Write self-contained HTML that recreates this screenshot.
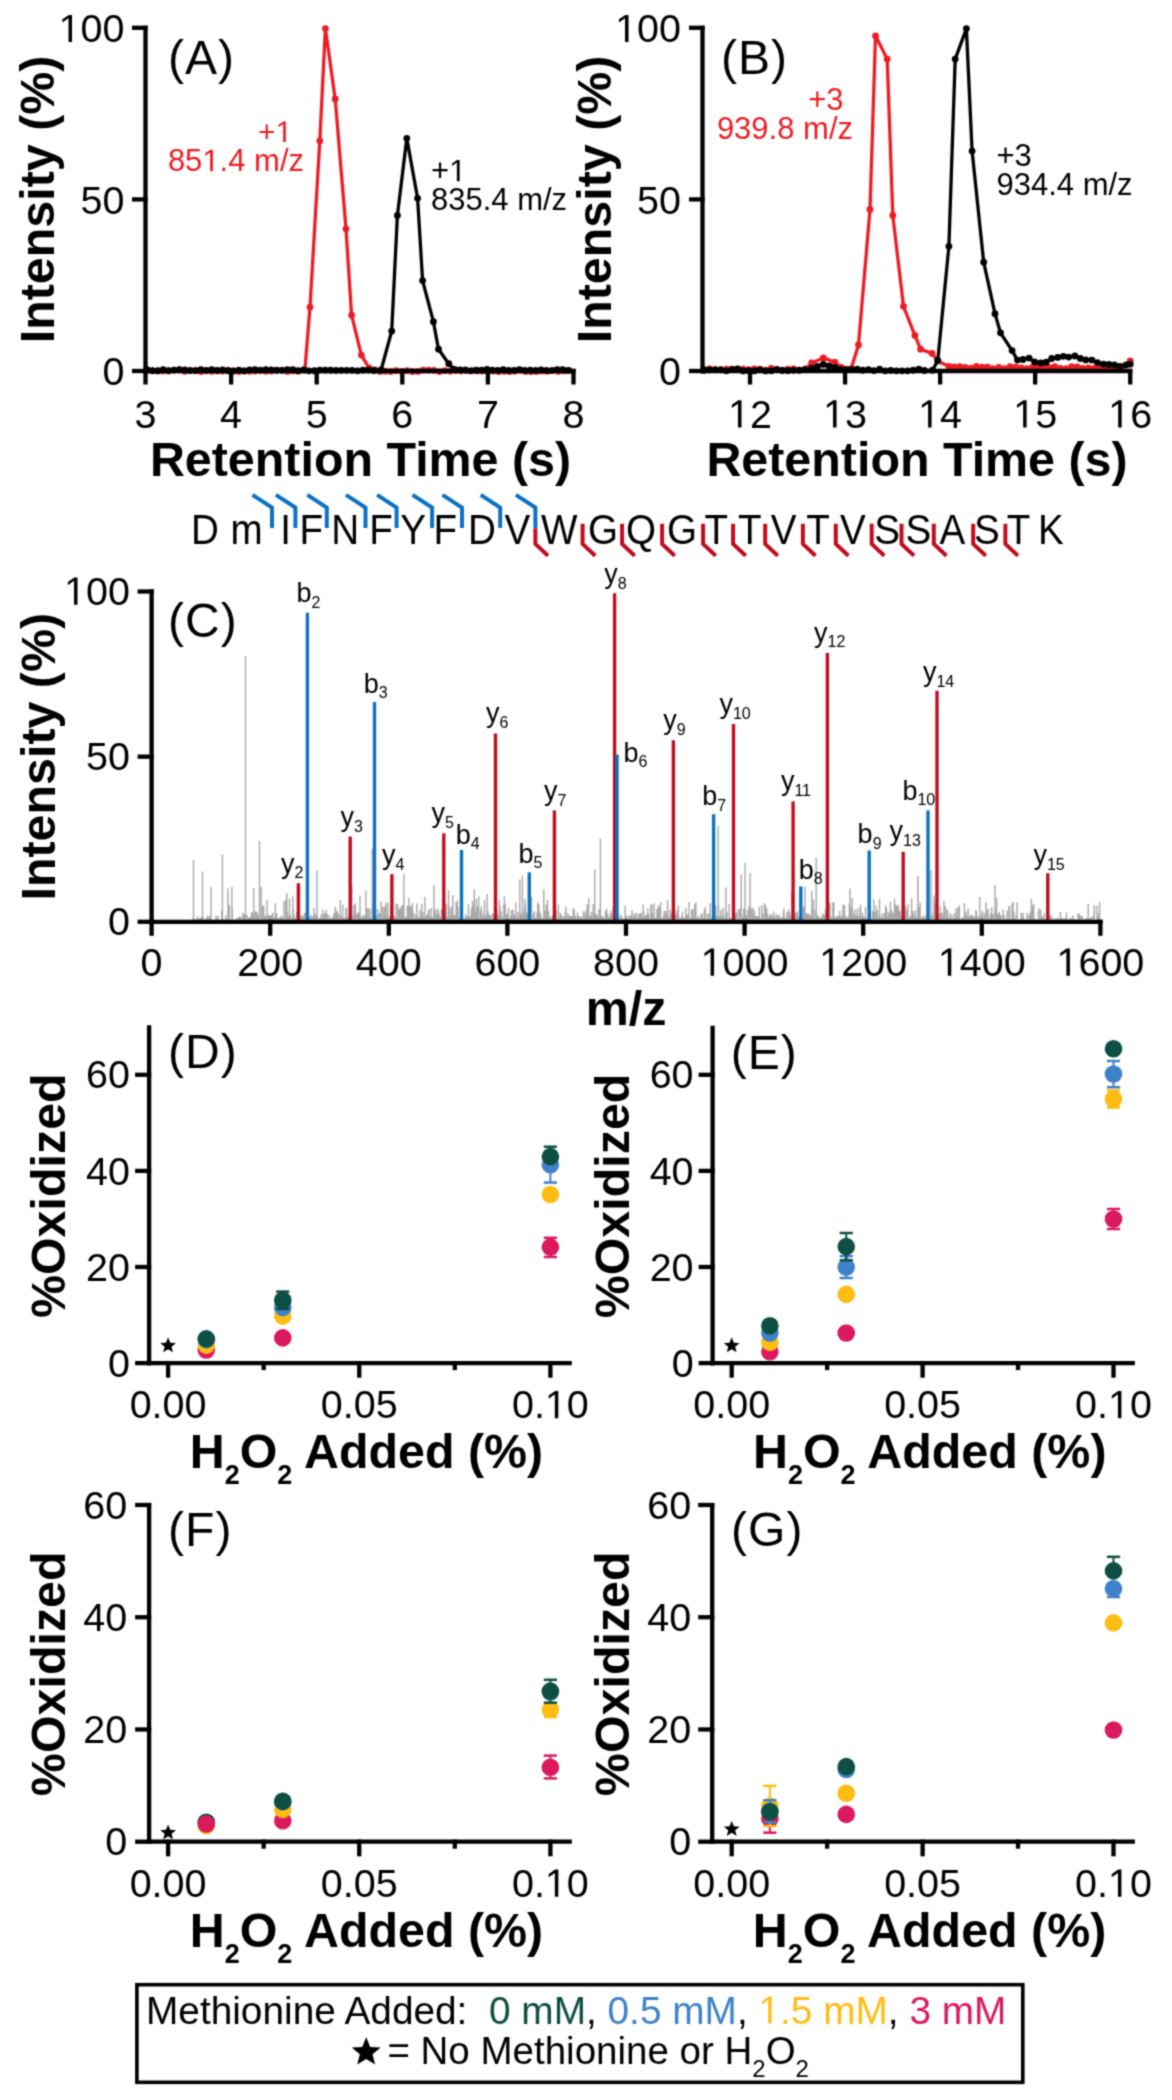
<!DOCTYPE html>
<html><head><meta charset="utf-8"><style>
html,body{margin:0;padding:0;background:#fff;}
svg{display:block;font-family:'Liberation Sans', sans-serif;will-change:transform;}
</style></head><body>
<svg width="1172" height="2100" viewBox="0 0 1172 2100">
<defs><filter id="sb" color-interpolation-filters="sRGB" x="0" y="0" width="100%" height="100%" filterUnits="userSpaceOnUse"><feConvolveMatrix order="3" kernelMatrix="1 2 1 2 8 2 1 2 1" edgeMode="duplicate" preserveAlpha="true"/></filter></defs>
<rect width="1172" height="2100" fill="#fff"/>
<g filter="url(#sb)">
<rect width="1172" height="2100" fill="#fff"/>
<polyline points="147.00,370.38 152.40,370.87 157.80,370.59 163.20,370.97 168.60,371.00 174.00,370.10 179.40,370.02 184.80,371.34 190.20,370.41 195.60,370.37 201.00,371.59 206.40,370.75 211.80,371.34 217.20,370.76 222.60,371.02 228.00,370.24 233.40,371.02 238.80,371.39 244.20,370.84 249.60,371.19 255.00,371.07 260.40,370.10 265.80,371.21 271.20,370.95 276.60,370.48 282.00,370.05 287.40,371.38 292.80,370.76 298.20,371.15 304.90,370.00 310.00,307.10 319.80,140.80 325.40,28.60 335.20,98.90 346.00,228.80 351.60,315.20 361.40,355.10 369.10,368.00 375.00,370.00 380.00,371.41 385.40,371.14 390.80,371.47 396.20,370.63 401.60,371.28 407.00,370.71 412.40,371.50 417.80,371.41 423.20,370.16 428.60,370.22 434.00,370.35 439.40,371.54 444.80,370.70 450.20,371.00 455.60,370.48 461.00,370.81 466.40,370.62 471.80,370.56 477.20,370.94 482.60,370.93 488.00,371.45 493.40,371.09 498.80,371.49 504.20,371.37 509.60,371.59 515.00,371.07 520.40,370.26 525.80,371.38 531.20,371.54 536.60,371.45 542.00,370.91 547.40,371.14 552.80,370.34 558.20,371.33 563.60,370.92 569.00,370.46" fill="none" stroke="#ec1c24" stroke-width="3.3" stroke-linejoin="round"/>
<circle cx="147.00" cy="370.38" r="3.4" fill="#ec1c24"/>
<circle cx="152.40" cy="370.87" r="3.4" fill="#ec1c24"/>
<circle cx="157.80" cy="370.59" r="3.4" fill="#ec1c24"/>
<circle cx="163.20" cy="370.97" r="3.4" fill="#ec1c24"/>
<circle cx="168.60" cy="371.00" r="3.4" fill="#ec1c24"/>
<circle cx="174.00" cy="370.10" r="3.4" fill="#ec1c24"/>
<circle cx="179.40" cy="370.02" r="3.4" fill="#ec1c24"/>
<circle cx="184.80" cy="371.34" r="3.4" fill="#ec1c24"/>
<circle cx="190.20" cy="370.41" r="3.4" fill="#ec1c24"/>
<circle cx="195.60" cy="370.37" r="3.4" fill="#ec1c24"/>
<circle cx="201.00" cy="371.59" r="3.4" fill="#ec1c24"/>
<circle cx="206.40" cy="370.75" r="3.4" fill="#ec1c24"/>
<circle cx="211.80" cy="371.34" r="3.4" fill="#ec1c24"/>
<circle cx="217.20" cy="370.76" r="3.4" fill="#ec1c24"/>
<circle cx="222.60" cy="371.02" r="3.4" fill="#ec1c24"/>
<circle cx="228.00" cy="370.24" r="3.4" fill="#ec1c24"/>
<circle cx="233.40" cy="371.02" r="3.4" fill="#ec1c24"/>
<circle cx="238.80" cy="371.39" r="3.4" fill="#ec1c24"/>
<circle cx="244.20" cy="370.84" r="3.4" fill="#ec1c24"/>
<circle cx="249.60" cy="371.19" r="3.4" fill="#ec1c24"/>
<circle cx="255.00" cy="371.07" r="3.4" fill="#ec1c24"/>
<circle cx="260.40" cy="370.10" r="3.4" fill="#ec1c24"/>
<circle cx="265.80" cy="371.21" r="3.4" fill="#ec1c24"/>
<circle cx="271.20" cy="370.95" r="3.4" fill="#ec1c24"/>
<circle cx="276.60" cy="370.48" r="3.4" fill="#ec1c24"/>
<circle cx="282.00" cy="370.05" r="3.4" fill="#ec1c24"/>
<circle cx="287.40" cy="371.38" r="3.4" fill="#ec1c24"/>
<circle cx="292.80" cy="370.76" r="3.4" fill="#ec1c24"/>
<circle cx="298.20" cy="371.15" r="3.4" fill="#ec1c24"/>
<circle cx="304.90" cy="370.00" r="3.4" fill="#ec1c24"/>
<circle cx="310.00" cy="307.10" r="3.4" fill="#ec1c24"/>
<circle cx="319.80" cy="140.80" r="3.4" fill="#ec1c24"/>
<circle cx="325.40" cy="28.60" r="3.4" fill="#ec1c24"/>
<circle cx="335.20" cy="98.90" r="3.4" fill="#ec1c24"/>
<circle cx="346.00" cy="228.80" r="3.4" fill="#ec1c24"/>
<circle cx="351.60" cy="315.20" r="3.4" fill="#ec1c24"/>
<circle cx="361.40" cy="355.10" r="3.4" fill="#ec1c24"/>
<circle cx="369.10" cy="368.00" r="3.4" fill="#ec1c24"/>
<circle cx="375.00" cy="370.00" r="3.4" fill="#ec1c24"/>
<circle cx="380.00" cy="371.41" r="3.4" fill="#ec1c24"/>
<circle cx="385.40" cy="371.14" r="3.4" fill="#ec1c24"/>
<circle cx="390.80" cy="371.47" r="3.4" fill="#ec1c24"/>
<circle cx="396.20" cy="370.63" r="3.4" fill="#ec1c24"/>
<circle cx="401.60" cy="371.28" r="3.4" fill="#ec1c24"/>
<circle cx="407.00" cy="370.71" r="3.4" fill="#ec1c24"/>
<circle cx="412.40" cy="371.50" r="3.4" fill="#ec1c24"/>
<circle cx="417.80" cy="371.41" r="3.4" fill="#ec1c24"/>
<circle cx="423.20" cy="370.16" r="3.4" fill="#ec1c24"/>
<circle cx="428.60" cy="370.22" r="3.4" fill="#ec1c24"/>
<circle cx="434.00" cy="370.35" r="3.4" fill="#ec1c24"/>
<circle cx="439.40" cy="371.54" r="3.4" fill="#ec1c24"/>
<circle cx="444.80" cy="370.70" r="3.4" fill="#ec1c24"/>
<circle cx="450.20" cy="371.00" r="3.4" fill="#ec1c24"/>
<circle cx="455.60" cy="370.48" r="3.4" fill="#ec1c24"/>
<circle cx="461.00" cy="370.81" r="3.4" fill="#ec1c24"/>
<circle cx="466.40" cy="370.62" r="3.4" fill="#ec1c24"/>
<circle cx="471.80" cy="370.56" r="3.4" fill="#ec1c24"/>
<circle cx="477.20" cy="370.94" r="3.4" fill="#ec1c24"/>
<circle cx="482.60" cy="370.93" r="3.4" fill="#ec1c24"/>
<circle cx="488.00" cy="371.45" r="3.4" fill="#ec1c24"/>
<circle cx="493.40" cy="371.09" r="3.4" fill="#ec1c24"/>
<circle cx="498.80" cy="371.49" r="3.4" fill="#ec1c24"/>
<circle cx="504.20" cy="371.37" r="3.4" fill="#ec1c24"/>
<circle cx="509.60" cy="371.59" r="3.4" fill="#ec1c24"/>
<circle cx="515.00" cy="371.07" r="3.4" fill="#ec1c24"/>
<circle cx="520.40" cy="370.26" r="3.4" fill="#ec1c24"/>
<circle cx="525.80" cy="371.38" r="3.4" fill="#ec1c24"/>
<circle cx="531.20" cy="371.54" r="3.4" fill="#ec1c24"/>
<circle cx="536.60" cy="371.45" r="3.4" fill="#ec1c24"/>
<circle cx="542.00" cy="370.91" r="3.4" fill="#ec1c24"/>
<circle cx="547.40" cy="371.14" r="3.4" fill="#ec1c24"/>
<circle cx="552.80" cy="370.34" r="3.4" fill="#ec1c24"/>
<circle cx="558.20" cy="371.33" r="3.4" fill="#ec1c24"/>
<circle cx="563.60" cy="370.92" r="3.4" fill="#ec1c24"/>
<circle cx="569.00" cy="370.46" r="3.4" fill="#ec1c24"/>
<polyline points="147.00,369.59 152.40,370.70 157.80,370.89 163.20,369.62 168.60,370.62 174.00,370.07 179.40,369.71 184.80,369.91 190.20,370.58 195.60,370.72 201.00,369.56 206.40,370.36 211.80,369.56 217.20,370.51 222.60,369.96 228.00,370.73 233.40,370.87 238.80,370.21 244.20,370.90 249.60,369.93 255.00,369.61 260.40,370.34 265.80,369.54 271.20,369.78 276.60,370.07 282.00,370.35 287.40,369.72 292.80,369.56 298.20,370.71 303.60,369.94 309.00,370.84 314.40,370.76 319.80,370.03 325.20,370.14 330.60,370.23 336.00,370.40 341.40,370.33 346.80,370.28 352.20,370.37 357.60,370.82 363.00,370.21 368.40,370.10 373.80,370.51 381.10,370.00 391.70,331.10 397.40,215.40 406.80,138.30 417.60,198.30 422.60,280.60 433.40,321.70 438.50,349.20 448.80,363.70 454.50,369.50 460.00,369.83 465.40,369.92 470.80,370.87 476.20,370.23 481.60,370.27 487.00,369.52 492.40,370.08 497.80,370.31 503.20,369.53 508.60,370.36 514.00,370.39 519.40,369.58 524.80,370.38 530.20,370.15 535.60,370.45 541.00,369.99 546.40,370.49 551.80,370.53 557.20,369.53 562.60,369.58 568.00,370.45" fill="none" stroke="#000" stroke-width="3.3" stroke-linejoin="round"/>
<circle cx="147.00" cy="369.59" r="3.4" fill="#000"/>
<circle cx="152.40" cy="370.70" r="3.4" fill="#000"/>
<circle cx="157.80" cy="370.89" r="3.4" fill="#000"/>
<circle cx="163.20" cy="369.62" r="3.4" fill="#000"/>
<circle cx="168.60" cy="370.62" r="3.4" fill="#000"/>
<circle cx="174.00" cy="370.07" r="3.4" fill="#000"/>
<circle cx="179.40" cy="369.71" r="3.4" fill="#000"/>
<circle cx="184.80" cy="369.91" r="3.4" fill="#000"/>
<circle cx="190.20" cy="370.58" r="3.4" fill="#000"/>
<circle cx="195.60" cy="370.72" r="3.4" fill="#000"/>
<circle cx="201.00" cy="369.56" r="3.4" fill="#000"/>
<circle cx="206.40" cy="370.36" r="3.4" fill="#000"/>
<circle cx="211.80" cy="369.56" r="3.4" fill="#000"/>
<circle cx="217.20" cy="370.51" r="3.4" fill="#000"/>
<circle cx="222.60" cy="369.96" r="3.4" fill="#000"/>
<circle cx="228.00" cy="370.73" r="3.4" fill="#000"/>
<circle cx="233.40" cy="370.87" r="3.4" fill="#000"/>
<circle cx="238.80" cy="370.21" r="3.4" fill="#000"/>
<circle cx="244.20" cy="370.90" r="3.4" fill="#000"/>
<circle cx="249.60" cy="369.93" r="3.4" fill="#000"/>
<circle cx="255.00" cy="369.61" r="3.4" fill="#000"/>
<circle cx="260.40" cy="370.34" r="3.4" fill="#000"/>
<circle cx="265.80" cy="369.54" r="3.4" fill="#000"/>
<circle cx="271.20" cy="369.78" r="3.4" fill="#000"/>
<circle cx="276.60" cy="370.07" r="3.4" fill="#000"/>
<circle cx="282.00" cy="370.35" r="3.4" fill="#000"/>
<circle cx="287.40" cy="369.72" r="3.4" fill="#000"/>
<circle cx="292.80" cy="369.56" r="3.4" fill="#000"/>
<circle cx="298.20" cy="370.71" r="3.4" fill="#000"/>
<circle cx="303.60" cy="369.94" r="3.4" fill="#000"/>
<circle cx="309.00" cy="370.84" r="3.4" fill="#000"/>
<circle cx="314.40" cy="370.76" r="3.4" fill="#000"/>
<circle cx="319.80" cy="370.03" r="3.4" fill="#000"/>
<circle cx="325.20" cy="370.14" r="3.4" fill="#000"/>
<circle cx="330.60" cy="370.23" r="3.4" fill="#000"/>
<circle cx="336.00" cy="370.40" r="3.4" fill="#000"/>
<circle cx="341.40" cy="370.33" r="3.4" fill="#000"/>
<circle cx="346.80" cy="370.28" r="3.4" fill="#000"/>
<circle cx="352.20" cy="370.37" r="3.4" fill="#000"/>
<circle cx="357.60" cy="370.82" r="3.4" fill="#000"/>
<circle cx="363.00" cy="370.21" r="3.4" fill="#000"/>
<circle cx="368.40" cy="370.10" r="3.4" fill="#000"/>
<circle cx="373.80" cy="370.51" r="3.4" fill="#000"/>
<circle cx="381.10" cy="370.00" r="3.4" fill="#000"/>
<circle cx="391.70" cy="331.10" r="3.4" fill="#000"/>
<circle cx="397.40" cy="215.40" r="3.4" fill="#000"/>
<circle cx="406.80" cy="138.30" r="3.4" fill="#000"/>
<circle cx="417.60" cy="198.30" r="3.4" fill="#000"/>
<circle cx="422.60" cy="280.60" r="3.4" fill="#000"/>
<circle cx="433.40" cy="321.70" r="3.4" fill="#000"/>
<circle cx="438.50" cy="349.20" r="3.4" fill="#000"/>
<circle cx="448.80" cy="363.70" r="3.4" fill="#000"/>
<circle cx="454.50" cy="369.50" r="3.4" fill="#000"/>
<circle cx="460.00" cy="369.83" r="3.4" fill="#000"/>
<circle cx="465.40" cy="369.92" r="3.4" fill="#000"/>
<circle cx="470.80" cy="370.87" r="3.4" fill="#000"/>
<circle cx="476.20" cy="370.23" r="3.4" fill="#000"/>
<circle cx="481.60" cy="370.27" r="3.4" fill="#000"/>
<circle cx="487.00" cy="369.52" r="3.4" fill="#000"/>
<circle cx="492.40" cy="370.08" r="3.4" fill="#000"/>
<circle cx="497.80" cy="370.31" r="3.4" fill="#000"/>
<circle cx="503.20" cy="369.53" r="3.4" fill="#000"/>
<circle cx="508.60" cy="370.36" r="3.4" fill="#000"/>
<circle cx="514.00" cy="370.39" r="3.4" fill="#000"/>
<circle cx="519.40" cy="369.58" r="3.4" fill="#000"/>
<circle cx="524.80" cy="370.38" r="3.4" fill="#000"/>
<circle cx="530.20" cy="370.15" r="3.4" fill="#000"/>
<circle cx="535.60" cy="370.45" r="3.4" fill="#000"/>
<circle cx="541.00" cy="369.99" r="3.4" fill="#000"/>
<circle cx="546.40" cy="370.49" r="3.4" fill="#000"/>
<circle cx="551.80" cy="370.53" r="3.4" fill="#000"/>
<circle cx="557.20" cy="369.53" r="3.4" fill="#000"/>
<circle cx="562.60" cy="369.58" r="3.4" fill="#000"/>
<circle cx="568.00" cy="370.45" r="3.4" fill="#000"/>
<polyline points="704.00,370.61 709.60,368.90 715.20,369.40 720.80,369.72 726.40,369.07 732.00,369.17 737.60,369.05 743.20,369.19 748.80,369.73 754.40,369.02 760.00,369.21 765.60,370.15 771.20,368.36 776.80,369.67 782.40,370.06 788.00,369.04 793.60,368.83 799.20,370.23 805.50,369.00 811.70,362.90 823.30,357.90 834.90,362.20 841.40,367.30 846.50,369.20 851.10,369.00 858.50,344.90 870.00,209.40 875.50,35.80 887.20,59.10 892.80,215.40 903.50,306.30 914.90,335.40 920.60,349.20 932.10,353.40 937.80,361.20 948.90,366.30 954.00,366.87 959.60,366.72 965.20,367.42 970.80,368.15 976.40,366.49 982.00,367.10 987.60,367.13 993.20,368.53 998.80,367.43 1004.40,368.60 1010.00,366.67 1015.60,367.14 1021.20,368.02 1026.80,368.68 1032.40,367.46 1038.00,366.83 1043.60,366.54 1049.20,367.68 1054.80,366.73 1060.40,368.46 1066.00,368.55 1071.60,366.71 1077.20,366.98 1082.80,368.46 1088.40,368.00 1094.00,368.46 1099.60,367.17 1105.20,366.56 1110.80,367.02 1116.40,368.42 1122.00,366.96 1130.20,360.80" fill="none" stroke="#ec1c24" stroke-width="3.3" stroke-linejoin="round"/>
<circle cx="704.00" cy="370.61" r="3.4" fill="#ec1c24"/>
<circle cx="709.60" cy="368.90" r="3.4" fill="#ec1c24"/>
<circle cx="715.20" cy="369.40" r="3.4" fill="#ec1c24"/>
<circle cx="720.80" cy="369.72" r="3.4" fill="#ec1c24"/>
<circle cx="726.40" cy="369.07" r="3.4" fill="#ec1c24"/>
<circle cx="732.00" cy="369.17" r="3.4" fill="#ec1c24"/>
<circle cx="737.60" cy="369.05" r="3.4" fill="#ec1c24"/>
<circle cx="743.20" cy="369.19" r="3.4" fill="#ec1c24"/>
<circle cx="748.80" cy="369.73" r="3.4" fill="#ec1c24"/>
<circle cx="754.40" cy="369.02" r="3.4" fill="#ec1c24"/>
<circle cx="760.00" cy="369.21" r="3.4" fill="#ec1c24"/>
<circle cx="765.60" cy="370.15" r="3.4" fill="#ec1c24"/>
<circle cx="771.20" cy="368.36" r="3.4" fill="#ec1c24"/>
<circle cx="776.80" cy="369.67" r="3.4" fill="#ec1c24"/>
<circle cx="782.40" cy="370.06" r="3.4" fill="#ec1c24"/>
<circle cx="788.00" cy="369.04" r="3.4" fill="#ec1c24"/>
<circle cx="793.60" cy="368.83" r="3.4" fill="#ec1c24"/>
<circle cx="799.20" cy="370.23" r="3.4" fill="#ec1c24"/>
<circle cx="805.50" cy="369.00" r="3.4" fill="#ec1c24"/>
<circle cx="811.70" cy="362.90" r="3.4" fill="#ec1c24"/>
<circle cx="823.30" cy="357.90" r="3.4" fill="#ec1c24"/>
<circle cx="834.90" cy="362.20" r="3.4" fill="#ec1c24"/>
<circle cx="841.40" cy="367.30" r="3.4" fill="#ec1c24"/>
<circle cx="846.50" cy="369.20" r="3.4" fill="#ec1c24"/>
<circle cx="851.10" cy="369.00" r="3.4" fill="#ec1c24"/>
<circle cx="858.50" cy="344.90" r="3.4" fill="#ec1c24"/>
<circle cx="870.00" cy="209.40" r="3.4" fill="#ec1c24"/>
<circle cx="875.50" cy="35.80" r="3.4" fill="#ec1c24"/>
<circle cx="887.20" cy="59.10" r="3.4" fill="#ec1c24"/>
<circle cx="892.80" cy="215.40" r="3.4" fill="#ec1c24"/>
<circle cx="903.50" cy="306.30" r="3.4" fill="#ec1c24"/>
<circle cx="914.90" cy="335.40" r="3.4" fill="#ec1c24"/>
<circle cx="920.60" cy="349.20" r="3.4" fill="#ec1c24"/>
<circle cx="932.10" cy="353.40" r="3.4" fill="#ec1c24"/>
<circle cx="937.80" cy="361.20" r="3.4" fill="#ec1c24"/>
<circle cx="948.90" cy="366.30" r="3.4" fill="#ec1c24"/>
<circle cx="954.00" cy="366.87" r="3.4" fill="#ec1c24"/>
<circle cx="959.60" cy="366.72" r="3.4" fill="#ec1c24"/>
<circle cx="965.20" cy="367.42" r="3.4" fill="#ec1c24"/>
<circle cx="970.80" cy="368.15" r="3.4" fill="#ec1c24"/>
<circle cx="976.40" cy="366.49" r="3.4" fill="#ec1c24"/>
<circle cx="982.00" cy="367.10" r="3.4" fill="#ec1c24"/>
<circle cx="987.60" cy="367.13" r="3.4" fill="#ec1c24"/>
<circle cx="993.20" cy="368.53" r="3.4" fill="#ec1c24"/>
<circle cx="998.80" cy="367.43" r="3.4" fill="#ec1c24"/>
<circle cx="1004.40" cy="368.60" r="3.4" fill="#ec1c24"/>
<circle cx="1010.00" cy="366.67" r="3.4" fill="#ec1c24"/>
<circle cx="1015.60" cy="367.14" r="3.4" fill="#ec1c24"/>
<circle cx="1021.20" cy="368.02" r="3.4" fill="#ec1c24"/>
<circle cx="1026.80" cy="368.68" r="3.4" fill="#ec1c24"/>
<circle cx="1032.40" cy="367.46" r="3.4" fill="#ec1c24"/>
<circle cx="1038.00" cy="366.83" r="3.4" fill="#ec1c24"/>
<circle cx="1043.60" cy="366.54" r="3.4" fill="#ec1c24"/>
<circle cx="1049.20" cy="367.68" r="3.4" fill="#ec1c24"/>
<circle cx="1054.80" cy="366.73" r="3.4" fill="#ec1c24"/>
<circle cx="1060.40" cy="368.46" r="3.4" fill="#ec1c24"/>
<circle cx="1066.00" cy="368.55" r="3.4" fill="#ec1c24"/>
<circle cx="1071.60" cy="366.71" r="3.4" fill="#ec1c24"/>
<circle cx="1077.20" cy="366.98" r="3.4" fill="#ec1c24"/>
<circle cx="1082.80" cy="368.46" r="3.4" fill="#ec1c24"/>
<circle cx="1088.40" cy="368.00" r="3.4" fill="#ec1c24"/>
<circle cx="1094.00" cy="368.46" r="3.4" fill="#ec1c24"/>
<circle cx="1099.60" cy="367.17" r="3.4" fill="#ec1c24"/>
<circle cx="1105.20" cy="366.56" r="3.4" fill="#ec1c24"/>
<circle cx="1110.80" cy="367.02" r="3.4" fill="#ec1c24"/>
<circle cx="1116.40" cy="368.42" r="3.4" fill="#ec1c24"/>
<circle cx="1122.00" cy="366.96" r="3.4" fill="#ec1c24"/>
<circle cx="1130.20" cy="360.80" r="3.4" fill="#ec1c24"/>
<polyline points="704.00,369.69 709.60,369.83 715.20,369.84 720.80,369.82 726.40,370.84 732.00,369.31 737.60,369.01 743.20,370.89 748.80,370.76 754.40,370.97 760.00,369.87 765.60,370.90 771.20,370.85 776.80,369.44 782.40,370.49 788.00,370.67 793.60,370.33 799.20,370.04 804.80,369.58 811.70,368.50 817.50,366.50 823.30,364.40 829.00,366.00 834.90,367.50 840.50,369.50 846.00,369.68 851.60,369.45 857.20,369.14 862.80,370.18 868.40,369.57 874.00,370.62 879.60,369.09 885.20,370.81 890.80,370.39 896.40,370.85 902.00,370.79 907.60,370.80 913.20,370.15 918.80,369.03 924.40,370.49 932.60,370.20 937.80,360.30 948.90,246.30 955.20,59.10 966.40,28.60 972.10,151.10 983.70,262.20 995.00,313.70 1000.50,332.80 1012.10,350.60 1017.50,360.10 1023.00,359.50 1029.10,358.10 1034.60,361.90 1040.80,362.90 1046.20,362.20 1051.70,358.50 1057.80,357.40 1063.30,356.30 1068.70,357.10 1074.90,356.00 1080.30,358.50 1085.80,359.90 1091.90,360.10 1097.40,362.60 1103.50,364.20 1109.00,364.50 1114.50,364.90 1119.90,366.30 1126.10,364.90 1130.20,364.20" fill="none" stroke="#000" stroke-width="3.3" stroke-linejoin="round"/>
<circle cx="704.00" cy="369.69" r="3.4" fill="#000"/>
<circle cx="709.60" cy="369.83" r="3.4" fill="#000"/>
<circle cx="715.20" cy="369.84" r="3.4" fill="#000"/>
<circle cx="720.80" cy="369.82" r="3.4" fill="#000"/>
<circle cx="726.40" cy="370.84" r="3.4" fill="#000"/>
<circle cx="732.00" cy="369.31" r="3.4" fill="#000"/>
<circle cx="737.60" cy="369.01" r="3.4" fill="#000"/>
<circle cx="743.20" cy="370.89" r="3.4" fill="#000"/>
<circle cx="748.80" cy="370.76" r="3.4" fill="#000"/>
<circle cx="754.40" cy="370.97" r="3.4" fill="#000"/>
<circle cx="760.00" cy="369.87" r="3.4" fill="#000"/>
<circle cx="765.60" cy="370.90" r="3.4" fill="#000"/>
<circle cx="771.20" cy="370.85" r="3.4" fill="#000"/>
<circle cx="776.80" cy="369.44" r="3.4" fill="#000"/>
<circle cx="782.40" cy="370.49" r="3.4" fill="#000"/>
<circle cx="788.00" cy="370.67" r="3.4" fill="#000"/>
<circle cx="793.60" cy="370.33" r="3.4" fill="#000"/>
<circle cx="799.20" cy="370.04" r="3.4" fill="#000"/>
<circle cx="804.80" cy="369.58" r="3.4" fill="#000"/>
<circle cx="811.70" cy="368.50" r="3.4" fill="#000"/>
<circle cx="817.50" cy="366.50" r="3.4" fill="#000"/>
<circle cx="823.30" cy="364.40" r="3.4" fill="#000"/>
<circle cx="829.00" cy="366.00" r="3.4" fill="#000"/>
<circle cx="834.90" cy="367.50" r="3.4" fill="#000"/>
<circle cx="840.50" cy="369.50" r="3.4" fill="#000"/>
<circle cx="846.00" cy="369.68" r="3.4" fill="#000"/>
<circle cx="851.60" cy="369.45" r="3.4" fill="#000"/>
<circle cx="857.20" cy="369.14" r="3.4" fill="#000"/>
<circle cx="862.80" cy="370.18" r="3.4" fill="#000"/>
<circle cx="868.40" cy="369.57" r="3.4" fill="#000"/>
<circle cx="874.00" cy="370.62" r="3.4" fill="#000"/>
<circle cx="879.60" cy="369.09" r="3.4" fill="#000"/>
<circle cx="885.20" cy="370.81" r="3.4" fill="#000"/>
<circle cx="890.80" cy="370.39" r="3.4" fill="#000"/>
<circle cx="896.40" cy="370.85" r="3.4" fill="#000"/>
<circle cx="902.00" cy="370.79" r="3.4" fill="#000"/>
<circle cx="907.60" cy="370.80" r="3.4" fill="#000"/>
<circle cx="913.20" cy="370.15" r="3.4" fill="#000"/>
<circle cx="918.80" cy="369.03" r="3.4" fill="#000"/>
<circle cx="924.40" cy="370.49" r="3.4" fill="#000"/>
<circle cx="932.60" cy="370.20" r="3.4" fill="#000"/>
<circle cx="937.80" cy="360.30" r="3.4" fill="#000"/>
<circle cx="948.90" cy="246.30" r="3.4" fill="#000"/>
<circle cx="955.20" cy="59.10" r="3.4" fill="#000"/>
<circle cx="966.40" cy="28.60" r="3.4" fill="#000"/>
<circle cx="972.10" cy="151.10" r="3.4" fill="#000"/>
<circle cx="983.70" cy="262.20" r="3.4" fill="#000"/>
<circle cx="995.00" cy="313.70" r="3.4" fill="#000"/>
<circle cx="1000.50" cy="332.80" r="3.4" fill="#000"/>
<circle cx="1012.10" cy="350.60" r="3.4" fill="#000"/>
<circle cx="1017.50" cy="360.10" r="3.4" fill="#000"/>
<circle cx="1023.00" cy="359.50" r="3.4" fill="#000"/>
<circle cx="1029.10" cy="358.10" r="3.4" fill="#000"/>
<circle cx="1034.60" cy="361.90" r="3.4" fill="#000"/>
<circle cx="1040.80" cy="362.90" r="3.4" fill="#000"/>
<circle cx="1046.20" cy="362.20" r="3.4" fill="#000"/>
<circle cx="1051.70" cy="358.50" r="3.4" fill="#000"/>
<circle cx="1057.80" cy="357.40" r="3.4" fill="#000"/>
<circle cx="1063.30" cy="356.30" r="3.4" fill="#000"/>
<circle cx="1068.70" cy="357.10" r="3.4" fill="#000"/>
<circle cx="1074.90" cy="356.00" r="3.4" fill="#000"/>
<circle cx="1080.30" cy="358.50" r="3.4" fill="#000"/>
<circle cx="1085.80" cy="359.90" r="3.4" fill="#000"/>
<circle cx="1091.90" cy="360.10" r="3.4" fill="#000"/>
<circle cx="1097.40" cy="362.60" r="3.4" fill="#000"/>
<circle cx="1103.50" cy="364.20" r="3.4" fill="#000"/>
<circle cx="1109.00" cy="364.50" r="3.4" fill="#000"/>
<circle cx="1114.50" cy="364.90" r="3.4" fill="#000"/>
<circle cx="1119.90" cy="366.30" r="3.4" fill="#000"/>
<circle cx="1126.10" cy="364.90" r="3.4" fill="#000"/>
<circle cx="1130.20" cy="364.20" r="3.4" fill="#000"/>
<line x1="145.50" y1="25.65" x2="145.50" y2="373.15" stroke="#000" stroke-width="4.3" stroke-linecap="butt"/>
<line x1="132.00" y1="371.00" x2="147.65" y2="371.00" stroke="#000" stroke-width="4.3" stroke-linecap="butt"/>
<text x="124.50" y="385.30" font-size="39.5" text-anchor="end" font-weight="normal" fill="#000" >0</text>
<line x1="132.00" y1="199.40" x2="147.65" y2="199.40" stroke="#000" stroke-width="4.3" stroke-linecap="butt"/>
<text x="124.50" y="213.70" font-size="39.5" text-anchor="end" font-weight="normal" fill="#000" >50</text>
<line x1="132.00" y1="27.80" x2="147.65" y2="27.80" stroke="#000" stroke-width="4.3" stroke-linecap="butt"/>
<text x="124.50" y="42.10" font-size="39.5" text-anchor="end" font-weight="normal" fill="#000" > 00</text>
<line x1="143.35" y1="371.00" x2="575.65" y2="371.00" stroke="#000" stroke-width="4.3" stroke-linecap="butt"/>
<line x1="145.50" y1="368.85" x2="145.50" y2="384.50" stroke="#000" stroke-width="4.3" stroke-linecap="butt"/>
<text x="145.50" y="427.50" font-size="39.5" text-anchor="middle" font-weight="normal" fill="#000" >3</text>
<line x1="231.10" y1="368.85" x2="231.10" y2="384.50" stroke="#000" stroke-width="4.3" stroke-linecap="butt"/>
<text x="231.10" y="427.50" font-size="39.5" text-anchor="middle" font-weight="normal" fill="#000" >4</text>
<line x1="316.70" y1="368.85" x2="316.70" y2="384.50" stroke="#000" stroke-width="4.3" stroke-linecap="butt"/>
<text x="316.70" y="427.50" font-size="39.5" text-anchor="middle" font-weight="normal" fill="#000" >5</text>
<line x1="402.30" y1="368.85" x2="402.30" y2="384.50" stroke="#000" stroke-width="4.3" stroke-linecap="butt"/>
<text x="402.30" y="427.50" font-size="39.5" text-anchor="middle" font-weight="normal" fill="#000" >6</text>
<line x1="487.90" y1="368.85" x2="487.90" y2="384.50" stroke="#000" stroke-width="4.3" stroke-linecap="butt"/>
<text x="487.90" y="427.50" font-size="39.5" text-anchor="middle" font-weight="normal" fill="#000" >7</text>
<line x1="573.50" y1="368.85" x2="573.50" y2="384.50" stroke="#000" stroke-width="4.3" stroke-linecap="butt"/>
<text x="573.50" y="427.50" font-size="39.5" text-anchor="middle" font-weight="normal" fill="#000" >8</text>
<text x="360.50" y="476.20" font-size="48.4" text-anchor="middle" font-weight="bold" fill="#000" >Retention Time (s)</text>
<text transform="translate(54.30,199.40) rotate(-90)" x="0" y="0" font-size="48.4" text-anchor="middle" font-weight="bold">Intensity (%)</text>
<text x="168.00" y="74.20" font-size="48" text-anchor="start" font-weight="normal" fill="#000" letter-spacing="1">(A)</text>
<line x1="702.50" y1="25.65" x2="702.50" y2="373.15" stroke="#000" stroke-width="4.3" stroke-linecap="butt"/>
<line x1="689.00" y1="371.00" x2="704.65" y2="371.00" stroke="#000" stroke-width="4.3" stroke-linecap="butt"/>
<text x="681.00" y="385.30" font-size="39.5" text-anchor="end" font-weight="normal" fill="#000" >0</text>
<line x1="689.00" y1="199.40" x2="704.65" y2="199.40" stroke="#000" stroke-width="4.3" stroke-linecap="butt"/>
<text x="681.00" y="213.70" font-size="39.5" text-anchor="end" font-weight="normal" fill="#000" >50</text>
<line x1="689.00" y1="27.80" x2="704.65" y2="27.80" stroke="#000" stroke-width="4.3" stroke-linecap="butt"/>
<text x="681.00" y="42.10" font-size="39.5" text-anchor="end" font-weight="normal" fill="#000" > 00</text>
<line x1="700.35" y1="371.00" x2="1132.38" y2="371.00" stroke="#000" stroke-width="4.3" stroke-linecap="butt"/>
<line x1="750.02" y1="368.85" x2="750.02" y2="384.50" stroke="#000" stroke-width="4.3" stroke-linecap="butt"/>
<text x="750.02" y="427.50" font-size="39.5" text-anchor="middle" font-weight="normal" fill="#000" > 2</text>
<line x1="845.08" y1="368.85" x2="845.08" y2="384.50" stroke="#000" stroke-width="4.3" stroke-linecap="butt"/>
<text x="845.08" y="427.50" font-size="39.5" text-anchor="middle" font-weight="normal" fill="#000" > 3</text>
<line x1="940.12" y1="368.85" x2="940.12" y2="384.50" stroke="#000" stroke-width="4.3" stroke-linecap="butt"/>
<text x="940.12" y="427.50" font-size="39.5" text-anchor="middle" font-weight="normal" fill="#000" > 4</text>
<line x1="1035.17" y1="368.85" x2="1035.17" y2="384.50" stroke="#000" stroke-width="4.3" stroke-linecap="butt"/>
<text x="1035.17" y="427.50" font-size="39.5" text-anchor="middle" font-weight="normal" fill="#000" > 5</text>
<line x1="1130.22" y1="368.85" x2="1130.22" y2="384.50" stroke="#000" stroke-width="4.3" stroke-linecap="butt"/>
<text x="1130.22" y="427.50" font-size="39.5" text-anchor="middle" font-weight="normal" fill="#000" > 6</text>
<text x="917.00" y="476.20" font-size="48.4" text-anchor="middle" font-weight="bold" fill="#000" >Retention Time (s)</text>
<text transform="translate(610.70,199.40) rotate(-90)" x="0" y="0" font-size="48.4" text-anchor="middle" font-weight="bold">Intensity (%)</text>
<text x="721.00" y="74.20" font-size="48" text-anchor="start" font-weight="normal" fill="#000" letter-spacing="1">(B)</text>
<text x="292.30" y="142.10" font-size="30" text-anchor="end" font-weight="normal" fill="#ec1c24" >+ </text>
<text x="304.00" y="171.20" font-size="31" text-anchor="end" font-weight="normal" fill="#ec1c24" >85 .4 m/z</text>
<text x="431.00" y="181.30" font-size="31" text-anchor="start" font-weight="normal" fill="#000" >+ </text>
<text x="431.00" y="210.40" font-size="31" text-anchor="start" font-weight="normal" fill="#000" >835.4 m/z</text>
<text x="843.60" y="109.90" font-size="31" text-anchor="end" font-weight="normal" fill="#ec1c24" >+3</text>
<text x="853.00" y="138.90" font-size="31" text-anchor="end" font-weight="normal" fill="#ec1c24" >939.8 m/z</text>
<text x="996.50" y="165.50" font-size="31" text-anchor="start" font-weight="normal" fill="#000" >+3</text>
<text x="996.50" y="194.50" font-size="31" text-anchor="start" font-weight="normal" fill="#000" >934.4 m/z</text>
<text transform="translate(205.00,543.6) scale(0.92,1)" font-size="42" text-anchor="middle">D</text>
<text transform="translate(246.60,543.6) scale(0.92,1)" font-size="42" text-anchor="middle">m</text>
<text transform="translate(285.50,543.6) scale(0.92,1)" font-size="42" text-anchor="middle">I</text>
<text transform="translate(311.40,543.6) scale(0.92,1)" font-size="42" text-anchor="middle">F</text>
<text transform="translate(345.20,543.6) scale(0.92,1)" font-size="42" text-anchor="middle">N</text>
<text transform="translate(381.00,543.6) scale(0.92,1)" font-size="42" text-anchor="middle">F</text>
<text transform="translate(413.20,543.6) scale(0.92,1)" font-size="42" text-anchor="middle">Y</text>
<text transform="translate(445.40,543.6) scale(0.92,1)" font-size="42" text-anchor="middle">F</text>
<text transform="translate(482.00,543.6) scale(0.92,1)" font-size="42" text-anchor="middle">D</text>
<text transform="translate(517.50,543.6) scale(0.92,1)" font-size="42" text-anchor="middle">V</text>
<text transform="translate(559.30,543.6) scale(0.92,1)" font-size="42" text-anchor="middle">W</text>
<text transform="translate(603.00,543.6) scale(0.92,1)" font-size="42" text-anchor="middle">G</text>
<text transform="translate(641.00,543.6) scale(0.92,1)" font-size="42" text-anchor="middle">Q</text>
<text transform="translate(682.00,543.6) scale(0.92,1)" font-size="42" text-anchor="middle">G</text>
<text transform="translate(716.40,543.6) scale(0.92,1)" font-size="42" text-anchor="middle">T</text>
<text transform="translate(749.70,543.6) scale(0.92,1)" font-size="42" text-anchor="middle">T</text>
<text transform="translate(783.60,543.6) scale(0.92,1)" font-size="42" text-anchor="middle">V</text>
<text transform="translate(818.00,543.6) scale(0.92,1)" font-size="42" text-anchor="middle">T</text>
<text transform="translate(853.00,543.6) scale(0.92,1)" font-size="42" text-anchor="middle">V</text>
<text transform="translate(887.20,543.6) scale(0.92,1)" font-size="42" text-anchor="middle">S</text>
<text transform="translate(918.30,543.6) scale(0.92,1)" font-size="42" text-anchor="middle">S</text>
<text transform="translate(952.40,543.6) scale(0.92,1)" font-size="42" text-anchor="middle">A</text>
<text transform="translate(986.80,543.6) scale(0.92,1)" font-size="42" text-anchor="middle">S</text>
<text transform="translate(1018.60,543.6) scale(0.92,1)" font-size="42" text-anchor="middle">T</text>
<text transform="translate(1050.80,543.6) scale(0.92,1)" font-size="42" text-anchor="middle">K</text>
<polyline points="252.50,494.8 272.00,507.6 272.00,528.1" fill="none" stroke="#0a72c2" stroke-width="4"/>
<polyline points="275.90,494.8 295.40,507.6 295.40,528.1" fill="none" stroke="#0a72c2" stroke-width="4"/>
<polyline points="307.30,494.8 326.80,507.6 326.80,528.1" fill="none" stroke="#0a72c2" stroke-width="4"/>
<polyline points="346.00,494.8 365.50,507.6 365.50,528.1" fill="none" stroke="#0a72c2" stroke-width="4"/>
<polyline points="377.10,494.8 396.60,507.6 396.60,528.1" fill="none" stroke="#0a72c2" stroke-width="4"/>
<polyline points="412.60,494.8 432.10,507.6 432.10,528.1" fill="none" stroke="#0a72c2" stroke-width="4"/>
<polyline points="442.50,494.8 462.00,507.6 462.00,528.1" fill="none" stroke="#0a72c2" stroke-width="4"/>
<polyline points="480.70,494.8 500.20,507.6 500.20,528.1" fill="none" stroke="#0a72c2" stroke-width="4"/>
<polyline points="515.90,494.8 535.40,507.6 535.40,528.1" fill="none" stroke="#0a72c2" stroke-width="4"/>
<polyline points="535.40,528.3  535.40,543.9 548.00,555.8" fill="none" stroke="#c00d1e" stroke-width="4"/>
<polyline points="582.60,523.8  582.60,543.9 595.20,555.8" fill="none" stroke="#c00d1e" stroke-width="4"/>
<polyline points="622.10,523.8  622.10,543.9 634.70,555.8" fill="none" stroke="#c00d1e" stroke-width="4"/>
<polyline points="662.10,523.8  662.10,543.9 674.70,555.8" fill="none" stroke="#c00d1e" stroke-width="4"/>
<polyline points="703.10,523.8  703.10,543.9 715.70,555.8" fill="none" stroke="#c00d1e" stroke-width="4"/>
<polyline points="733.10,523.8  733.10,543.9 745.70,555.8" fill="none" stroke="#c00d1e" stroke-width="4"/>
<polyline points="765.20,523.8  765.20,543.9 777.80,555.8" fill="none" stroke="#c00d1e" stroke-width="4"/>
<polyline points="802.90,523.8  802.90,543.9 815.50,555.8" fill="none" stroke="#c00d1e" stroke-width="4"/>
<polyline points="835.80,523.8  835.80,543.9 848.40,555.8" fill="none" stroke="#c00d1e" stroke-width="4"/>
<polyline points="871.70,523.8  871.70,543.9 884.30,555.8" fill="none" stroke="#c00d1e" stroke-width="4"/>
<polyline points="901.50,523.8  901.50,543.9 914.10,555.8" fill="none" stroke="#c00d1e" stroke-width="4"/>
<polyline points="933.80,523.8  933.80,543.9 946.40,555.8" fill="none" stroke="#c00d1e" stroke-width="4"/>
<polyline points="973.20,523.8  973.20,543.9 985.80,555.8" fill="none" stroke="#c00d1e" stroke-width="4"/>
<polyline points="1005.40,523.8  1005.40,543.9 1018.00,555.8" fill="none" stroke="#c00d1e" stroke-width="4"/>
<path d="M190.0 921.8V919.8 M191.0 921.8V920.6 M191.8 921.8V920.7 M192.3 921.8V919.4 M192.9 921.8V919.4 M193.5 921.8V920.2 M194.8 921.8V918.6 M196.1 921.8V920.7 M196.8 921.8V920.4 M197.5 921.8V916.6 M198.5 921.8V918.3 M199.4 921.8V920.6 M200.1 921.8V917.9 M200.9 921.8V918.6 M201.6 921.8V916.8 M202.3 921.8V918.7 M203.5 921.8V917.5 M204.8 921.8V920.5 M205.9 921.8V920.4 M206.4 921.8V918.0 M207.4 921.8V915.6 M208.4 921.8V918.5 M209.3 921.8V916.2 M210.2 921.8V918.1 M211.2 921.8V918.2 M212.4 921.8V920.0 M213.4 921.8V920.7 M214.1 921.8V920.5 M215.2 921.8V920.5 M216.0 921.8V915.7 M216.8 921.8V918.8 M218.0 921.8V915.8 M218.8 921.8V919.7 M220.1 921.8V920.4 M220.8 921.8V920.1 M221.8 921.8V910.4 M222.5 921.8V918.7 M223.6 921.8V919.0 M224.6 921.8V920.7 M225.8 921.8V915.6 M226.6 921.8V919.5 M227.6 921.8V920.6 M228.3 921.8V920.4 M228.8 921.8V920.8 M229.4 921.8V905.1 M230.4 921.8V920.4 M231.1 921.8V919.7 M232.3 921.8V908.4 M233.2 921.8V920.6 M234.0 921.8V920.0 M234.6 921.8V920.7 M235.5 921.8V920.4 M236.1 921.8V918.9 M237.3 921.8V917.8 M238.0 921.8V920.3 M239.0 921.8V917.0 M239.6 921.8V916.6 M240.8 921.8V916.7 M241.9 921.8V920.2 M242.7 921.8V912.7 M243.4 921.8V917.9 M244.3 921.8V913.9 M245.5 921.8V919.7 M246.2 921.8V920.3 M247.2 921.8V915.0 M248.1 921.8V918.2 M248.7 921.8V918.1 M249.8 921.8V917.3 M250.4 921.8V916.9 M251.6 921.8V911.9 M252.4 921.8V913.5 M253.0 921.8V920.5 M254.3 921.8V916.7 M255.4 921.8V911.0 M256.2 921.8V918.8 M256.7 921.8V912.0 M257.6 921.8V914.0 M258.8 921.8V916.4 M259.5 921.8V919.9 M260.5 921.8V920.0 M261.1 921.8V914.8 M262.0 921.8V918.6 M262.8 921.8V906.3 M263.7 921.8V905.3 M264.4 921.8V918.8 M265.0 921.8V915.6 M266.0 921.8V916.8 M266.9 921.8V900.0 M267.6 921.8V917.2 M268.5 921.8V914.7 M269.7 921.8V915.9 M270.6 921.8V915.2 M271.5 921.8V915.0 M272.8 921.8V912.8 M274.0 921.8V917.3 M275.3 921.8V903.3 M276.1 921.8V918.4 M276.7 921.8V913.3 M277.9 921.8V918.0 M278.9 921.8V918.0 M280.2 921.8V917.6 M281.0 921.8V915.5 M282.2 921.8V917.9 M283.1 921.8V916.7 M283.9 921.8V901.3 M284.7 921.8V918.7 M285.7 921.8V899.4 M286.8 921.8V893.1 M287.4 921.8V911.3 M288.0 921.8V916.1 M289.1 921.8V917.3 M290.4 921.8V914.6 M290.9 921.8V918.5 M291.8 921.8V918.4 M292.8 921.8V896.3 M293.3 921.8V908.9 M294.1 921.8V914.8 M294.8 921.8V918.1 M295.5 921.8V918.2 M296.1 921.8V917.7 M296.8 921.8V911.7 M297.7 921.8V917.8 M298.2 921.8V904.3 M299.2 921.8V917.7 M300.4 921.8V918.2 M301.2 921.8V915.4 M302.1 921.8V915.3 M303.3 921.8V916.7 M304.4 921.8V913.7 M305.2 921.8V912.7 M306.3 921.8V917.3 M306.8 921.8V909.6 M307.9 921.8V917.1 M308.6 921.8V915.7 M309.5 921.8V917.3 M310.8 921.8V914.8 M312.0 921.8V916.9 M312.5 921.8V916.4 M313.4 921.8V917.7 M313.9 921.8V907.9 M314.5 921.8V918.7 M315.2 921.8V914.4 M316.3 921.8V913.4 M317.5 921.8V916.3 M318.7 921.8V918.0 M319.8 921.8V918.6 M321.0 921.8V913.9 M322.1 921.8V918.0 M323.0 921.8V909.8 M324.2 921.8V914.4 M325.2 921.8V912.9 M325.8 921.8V918.1 M326.3 921.8V909.8 M327.3 921.8V913.9 M328.2 921.8V918.8 M329.3 921.8V915.3 M330.4 921.8V918.5 M331.1 921.8V918.4 M332.1 921.8V917.7 M333.4 921.8V915.4 M334.3 921.8V913.0 M335.3 921.8V907.0 M336.0 921.8V912.0 M337.0 921.8V910.8 M338.0 921.8V912.9 M338.7 921.8V915.2 M339.6 921.8V918.2 M340.3 921.8V899.7 M340.8 921.8V915.7 M342.1 921.8V915.8 M342.7 921.8V904.2 M343.7 921.8V918.0 M344.9 921.8V918.1 M345.9 921.8V907.9 M346.5 921.8V907.4 M347.1 921.8V918.8 M347.9 921.8V917.0 M348.7 921.8V916.9 M349.2 921.8V911.9 M349.8 921.8V905.8 M351.0 921.8V917.1 M351.8 921.8V885.2 M352.6 921.8V916.0 M353.2 921.8V918.3 M353.9 921.8V905.1 M354.6 921.8V915.2 M355.4 921.8V903.2 M356.5 921.8V913.8 M357.8 921.8V914.8 M358.3 921.8V912.2 M359.4 921.8V913.6 M360.0 921.8V895.5 M360.8 921.8V917.0 M362.0 921.8V917.3 M362.8 921.8V914.7 M363.4 921.8V917.9 M364.6 921.8V915.4 M365.9 921.8V890.6 M366.5 921.8V909.0 M367.0 921.8V917.4 M368.0 921.8V907.9 M368.8 921.8V916.1 M369.6 921.8V908.7 M370.9 921.8V918.1 M371.9 921.8V908.9 M372.6 921.8V917.4 M373.5 921.8V903.4 M374.7 921.8V905.9 M375.9 921.8V915.6 M376.4 921.8V916.3 M377.6 921.8V909.1 M378.3 921.8V918.2 M379.2 921.8V913.1 M380.3 921.8V913.6 M381.1 921.8V901.2 M381.8 921.8V906.2 M382.5 921.8V918.1 M383.6 921.8V907.0 M384.5 921.8V914.4 M385.2 921.8V905.9 M386.0 921.8V902.8 M387.2 921.8V915.6 M387.9 921.8V902.6 M388.7 921.8V918.7 M389.7 921.8V916.1 M390.7 921.8V905.8 M391.3 921.8V916.7 M392.3 921.8V917.7 M393.4 921.8V915.3 M394.7 921.8V916.9 M395.4 921.8V917.5 M396.1 921.8V903.6 M396.8 921.8V917.5 M397.8 921.8V903.9 M398.6 921.8V917.6 M399.2 921.8V909.2 M400.4 921.8V908.0 M401.7 921.8V905.4 M402.4 921.8V905.1 M402.9 921.8V913.3 M403.7 921.8V916.8 M404.2 921.8V917.2 M405.5 921.8V918.1 M406.1 921.8V916.6 M407.3 921.8V905.8 M408.1 921.8V906.2 M408.9 921.8V897.9 M410.0 921.8V906.1 M410.6 921.8V906.2 M411.7 921.8V907.4 M412.4 921.8V903.0 M413.1 921.8V912.5 M413.8 921.8V918.8 M415.1 921.8V913.8 M415.6 921.8V917.5 M416.9 921.8V903.4 M417.6 921.8V916.0 M418.8 921.8V917.8 M419.9 921.8V910.1 M420.9 921.8V916.8 M421.7 921.8V904.0 M422.8 921.8V912.0 M423.7 921.8V916.8 M424.9 921.8V896.8 M425.5 921.8V918.3 M426.5 921.8V915.8 M427.4 921.8V914.0 M428.5 921.8V909.4 M429.1 921.8V909.6 M430.0 921.8V916.5 M430.7 921.8V917.4 M431.3 921.8V908.0 M432.1 921.8V916.3 M433.0 921.8V917.5 M434.0 921.8V885.0 M435.2 921.8V909.6 M435.7 921.8V910.0 M437.0 921.8V914.4 M437.8 921.8V908.7 M438.5 921.8V911.3 M439.1 921.8V914.3 M439.7 921.8V916.5 M440.4 921.8V917.3 M441.4 921.8V909.1 M442.5 921.8V917.8 M443.1 921.8V910.9 M443.7 921.8V918.3 M444.6 921.8V906.9 M445.7 921.8V916.2 M446.4 921.8V903.5 M447.4 921.8V916.6 M448.6 921.8V890.4 M449.2 921.8V912.3 M449.7 921.8V907.2 M450.9 921.8V916.2 M451.7 921.8V906.8 M452.8 921.8V894.9 M453.6 921.8V915.3 M454.3 921.8V915.1 M454.9 921.8V915.4 M456.1 921.8V902.3 M457.4 921.8V900.3 M458.2 921.8V907.1 M459.4 921.8V917.9 M460.1 921.8V916.2 M461.2 921.8V917.8 M462.1 921.8V915.2 M462.7 921.8V917.4 M463.9 921.8V918.6 M465.0 921.8V918.6 M465.6 921.8V914.2 M466.6 921.8V917.0 M467.5 921.8V916.0 M468.4 921.8V904.1 M469.3 921.8V917.5 M470.4 921.8V915.7 M471.3 921.8V908.5 M471.9 921.8V915.9 M472.4 921.8V900.7 M473.5 921.8V904.7 M474.3 921.8V889.3 M475.6 921.8V912.2 M476.3 921.8V898.8 M477.5 921.8V906.4 M478.7 921.8V896.6 M479.8 921.8V917.9 M480.5 921.8V910.3 M481.4 921.8V906.2 M482.1 921.8V915.3 M482.6 921.8V917.8 M483.9 921.8V913.1 M484.5 921.8V900.3 M485.5 921.8V916.6 M486.5 921.8V914.5 M487.1 921.8V894.0 M487.9 921.8V910.8 M489.2 921.8V914.5 M490.3 921.8V915.9 M491.4 921.8V918.6 M492.1 921.8V913.7 M493.0 921.8V913.4 M493.5 921.8V918.6 M494.5 921.8V916.0 M495.8 921.8V918.1 M496.8 921.8V909.8 M497.4 921.8V916.6 M498.3 921.8V914.4 M499.3 921.8V900.3 M500.0 921.8V906.0 M501.2 921.8V911.2 M501.9 921.8V918.7 M502.9 921.8V916.6 M503.7 921.8V905.0 M504.4 921.8V896.3 M505.3 921.8V903.9 M505.8 921.8V914.8 M506.4 921.8V917.7 M507.3 921.8V913.7 M507.9 921.8V916.9 M508.5 921.8V907.8 M509.5 921.8V918.8 M510.6 921.8V915.7 M511.5 921.8V910.0 M512.0 921.8V916.8 M513.1 921.8V909.5 M513.8 921.8V914.8 M514.9 921.8V915.1 M515.9 921.8V902.0 M517.1 921.8V918.7 M517.8 921.8V912.0 M518.9 921.8V916.8 M519.7 921.8V917.4 M520.7 921.8V912.9 M522.0 921.8V915.6 M523.0 921.8V909.1 M524.1 921.8V914.6 M524.8 921.8V898.9 M525.4 921.8V903.4 M526.2 921.8V912.6 M527.2 921.8V913.8 M528.3 921.8V918.5 M529.1 921.8V910.3 M530.3 921.8V918.5 M531.6 921.8V897.1 M532.1 921.8V918.6 M533.3 921.8V913.8 M534.3 921.8V911.0 M535.4 921.8V917.7 M536.2 921.8V918.7 M537.0 921.8V912.5 M537.7 921.8V902.2 M538.9 921.8V904.4 M539.8 921.8V911.4 M540.8 921.8V914.9 M542.0 921.8V918.3 M542.7 921.8V918.8 M543.8 921.8V889.3 M544.7 921.8V910.8 M545.6 921.8V916.7 M546.3 921.8V904.4 M546.9 921.8V912.8 M547.5 921.8V900.1 M548.6 921.8V911.1 M549.4 921.8V916.2 M550.6 921.8V918.3 M551.1 921.8V917.6 M552.3 921.8V915.3 M553.5 921.8V917.5 M554.4 921.8V911.8 M555.5 921.8V916.7 M556.1 921.8V909.5 M557.2 921.8V917.9 M558.3 921.8V904.4 M559.5 921.8V917.4 M560.2 921.8V912.7 M560.9 921.8V918.0 M561.6 921.8V915.1 M562.4 921.8V917.8 M563.5 921.8V918.3 M564.1 921.8V916.4 M565.2 921.8V912.2 M565.9 921.8V906.4 M566.7 921.8V918.6 M567.8 921.8V912.9 M568.8 921.8V915.7 M569.8 921.8V916.2 M571.0 921.8V916.0 M572.1 921.8V916.1 M573.2 921.8V908.2 M574.2 921.8V909.2 M575.3 921.8V915.8 M576.3 921.8V918.3 M577.4 921.8V912.6 M578.1 921.8V916.0 M579.1 921.8V916.2 M580.3 921.8V917.8 M581.5 921.8V916.3 M582.7 921.8V918.6 M583.4 921.8V911.2 M584.3 921.8V918.3 M585.2 921.8V912.5 M586.2 921.8V910.0 M587.1 921.8V904.0 M588.1 921.8V916.3 M588.7 921.8V898.0 M589.2 921.8V917.2 M589.8 921.8V916.1 M590.8 921.8V916.6 M591.5 921.8V912.0 M592.4 921.8V917.6 M593.2 921.8V904.1 M594.4 921.8V913.8 M595.3 921.8V917.5 M596.1 921.8V913.7 M597.3 921.8V915.6 M598.2 921.8V918.1 M599.0 921.8V909.3 M599.8 921.8V917.3 M600.4 921.8V918.8 M601.2 921.8V917.4 M602.0 921.8V916.0 M603.1 921.8V916.5 M604.3 921.8V918.5 M605.5 921.8V911.1 M606.6 921.8V908.7 M607.9 921.8V913.5 M608.5 921.8V918.0 M609.6 921.8V916.7 M610.8 921.8V911.0 M612.0 921.8V914.1 M613.1 921.8V907.6 M614.2 921.8V917.7 M615.2 921.8V912.0 M616.4 921.8V914.8 M617.1 921.8V918.0 M617.6 921.8V915.7 M618.5 921.8V915.4 M619.7 921.8V918.8 M620.6 921.8V914.7 M621.7 921.8V916.5 M623.0 921.8V918.4 M624.0 921.8V918.7 M625.1 921.8V905.4 M626.4 921.8V915.2 M627.6 921.8V918.6 M628.6 921.8V916.7 M629.4 921.8V915.6 M630.5 921.8V917.6 M631.3 921.8V914.8 M632.1 921.8V910.0 M633.0 921.8V917.2 M634.2 921.8V913.5 M635.0 921.8V916.9 M636.0 921.8V913.8 M636.5 921.8V912.4 M637.4 921.8V918.5 M637.9 921.8V917.7 M638.9 921.8V913.4 M640.2 921.8V914.1 M641.2 921.8V912.8 M642.2 921.8V917.6 M643.1 921.8V904.6 M643.6 921.8V911.4 M644.6 921.8V916.5 M645.8 921.8V914.7 M646.5 921.8V916.1 M647.3 921.8V913.7 M647.9 921.8V908.3 M649.0 921.8V914.5 M649.9 921.8V918.7 M650.9 921.8V904.9 M651.7 921.8V904.1 M652.4 921.8V912.9 M653.5 921.8V918.2 M654.0 921.8V903.4 M655.1 921.8V917.4 M655.8 921.8V918.5 M656.8 921.8V909.1 M657.4 921.8V913.8 M658.3 921.8V905.3 M659.5 921.8V907.3 M660.6 921.8V901.9 M661.6 921.8V917.9 M662.5 921.8V918.5 M663.5 921.8V915.9 M664.1 921.8V910.8 M665.1 921.8V913.8 M665.9 921.8V911.1 M667.1 921.8V914.6 M667.6 921.8V900.6 M668.8 921.8V916.8 M670.0 921.8V909.9 M670.8 921.8V916.0 M671.6 921.8V913.0 M672.8 921.8V910.6 M673.3 921.8V917.3 M674.3 921.8V910.3 M674.8 921.8V909.8 M676.0 921.8V914.6 M677.2 921.8V910.6 M678.4 921.8V905.6 M679.6 921.8V917.7 M680.8 921.8V917.5 M681.8 921.8V915.7 M682.5 921.8V911.8 M683.4 921.8V918.3 M684.5 921.8V917.5 M685.8 921.8V908.0 M686.6 921.8V914.4 M687.3 921.8V917.8 M688.1 921.8V914.6 M689.0 921.8V902.0 M689.8 921.8V918.2 M690.9 921.8V918.0 M691.7 921.8V909.8 M693.0 921.8V908.7 M693.9 921.8V917.3 M694.8 921.8V904.2 M695.9 921.8V902.3 M696.5 921.8V917.7 M697.0 921.8V918.5 M698.2 921.8V915.7 M699.5 921.8V918.5 M700.3 921.8V918.2 M701.0 921.8V914.6 M702.2 921.8V913.3 M703.1 921.8V917.9 M704.4 921.8V909.7 M705.2 921.8V907.1 M706.4 921.8V918.6 M707.4 921.8V913.6 M708.0 921.8V918.0 M709.2 921.8V913.2 M710.2 921.8V903.1 M710.9 921.8V918.1 M711.5 921.8V917.4 M712.6 921.8V918.7 M713.2 921.8V918.6 M713.9 921.8V905.2 M715.1 921.8V918.0 M715.7 921.8V905.6 M716.7 921.8V915.8 M717.9 921.8V915.6 M718.5 921.8V904.7 M719.4 921.8V918.0 M720.1 921.8V916.1 M720.8 921.8V909.7 M721.5 921.8V915.4 M722.7 921.8V918.2 M723.2 921.8V907.5 M723.9 921.8V915.6 M724.6 921.8V917.7 M725.9 921.8V887.5 M726.5 921.8V917.1 M727.0 921.8V912.3 M728.3 921.8V918.7 M729.1 921.8V903.9 M730.0 921.8V917.8 M731.2 921.8V917.6 M731.9 921.8V917.8 M732.9 921.8V911.7 M733.9 921.8V915.4 M734.6 921.8V914.1 M735.7 921.8V914.4 M736.3 921.8V912.2 M737.4 921.8V918.5 M738.1 921.8V909.6 M739.0 921.8V918.7 M739.9 921.8V908.5 M740.5 921.8V909.9 M741.2 921.8V916.5 M741.7 921.8V915.1 M742.6 921.8V918.2 M743.7 921.8V908.8 M744.8 921.8V916.4 M745.4 921.8V908.5 M746.3 921.8V915.2 M747.2 921.8V918.7 M747.9 921.8V910.0 M749.0 921.8V906.0 M749.7 921.8V918.7 M750.6 921.8V915.1 M751.2 921.8V908.6 M751.8 921.8V918.1 M752.7 921.8V907.7 M753.3 921.8V914.3 M753.9 921.8V914.5 M754.5 921.8V910.1 M755.3 921.8V916.1 M756.2 921.8V916.3 M757.4 921.8V916.7 M758.1 921.8V915.9 M759.3 921.8V906.6 M760.5 921.8V918.5 M761.7 921.8V905.2 M762.6 921.8V913.8 M763.5 921.8V918.4 M764.4 921.8V903.0 M765.5 921.8V905.0 M766.7 921.8V908.0 M767.2 921.8V913.7 M768.2 921.8V917.2 M769.5 921.8V913.9 M770.4 921.8V916.0 M771.1 921.8V917.0 M771.7 921.8V914.3 M772.6 921.8V917.2 M773.6 921.8V911.6 M774.3 921.8V916.2 M775.0 921.8V918.3 M776.2 921.8V914.1 M777.2 921.8V917.7 M778.0 921.8V914.8 M778.9 921.8V916.9 M779.6 921.8V915.2 M780.6 921.8V918.7 M781.8 921.8V917.4 M782.6 921.8V917.1 M783.4 921.8V911.4 M783.9 921.8V908.5 M784.5 921.8V916.3 M785.6 921.8V918.2 M786.8 921.8V912.1 M787.6 921.8V916.6 M788.6 921.8V909.3 M789.5 921.8V912.1 M790.6 921.8V915.6 M791.7 921.8V891.9 M792.2 921.8V911.5 M793.1 921.8V902.4 M793.9 921.8V911.1 M794.9 921.8V916.4 M795.8 921.8V912.4 M796.6 921.8V914.7 M797.4 921.8V911.1 M798.2 921.8V915.9 M799.0 921.8V918.0 M800.0 921.8V918.3 M800.7 921.8V909.5 M802.0 921.8V917.7 M803.2 921.8V907.5 M804.1 921.8V906.2 M805.0 921.8V886.8 M806.0 921.8V913.0 M806.7 921.8V914.3 M808.0 921.8V913.2 M808.6 921.8V916.5 M809.5 921.8V914.5 M810.8 921.8V915.5 M811.8 921.8V891.0 M812.7 921.8V910.3 M813.5 921.8V899.6 M814.4 921.8V918.2 M815.4 921.8V910.2 M816.7 921.8V916.1 M817.4 921.8V915.2 M818.0 921.8V917.8 M819.0 921.8V916.6 M820.0 921.8V918.6 M821.2 921.8V917.0 M821.7 921.8V917.0 M822.6 921.8V913.3 M823.5 921.8V914.8 M824.5 921.8V915.0 M825.5 921.8V909.4 M826.6 921.8V911.4 M827.5 921.8V910.1 M828.7 921.8V905.0 M829.4 921.8V912.5 M830.1 921.8V902.3 M831.0 921.8V916.7 M831.8 921.8V918.5 M832.8 921.8V902.8 M833.8 921.8V902.1 M835.0 921.8V916.9 M836.1 921.8V917.0 M837.4 921.8V915.4 M838.1 921.8V916.3 M838.8 921.8V917.0 M839.7 921.8V910.9 M840.3 921.8V916.6 M841.6 921.8V917.1 M842.2 921.8V915.0 M843.0 921.8V904.4 M843.8 921.8V917.4 M844.5 921.8V905.1 M845.3 921.8V918.0 M845.9 921.8V917.2 M846.5 921.8V915.9 M847.6 921.8V917.9 M848.7 921.8V916.4 M849.3 921.8V903.7 M850.0 921.8V903.0 M850.7 921.8V907.3 M851.5 921.8V917.4 M852.2 921.8V897.9 M853.1 921.8V917.2 M853.9 921.8V913.4 M854.7 921.8V909.4 M855.9 921.8V916.9 M856.5 921.8V914.7 M857.4 921.8V908.6 M858.0 921.8V918.1 M858.8 921.8V916.2 M859.9 921.8V908.1 M860.5 921.8V904.7 M861.5 921.8V916.6 M862.5 921.8V912.8 M863.7 921.8V916.6 M864.4 921.8V918.2 M865.5 921.8V907.1 M866.1 921.8V917.7 M866.9 921.8V918.6 M867.9 921.8V917.8 M868.9 921.8V912.5 M869.7 921.8V913.0 M870.2 921.8V909.8 M870.9 921.8V918.6 M871.9 921.8V918.6 M872.5 921.8V911.0 M873.7 921.8V899.2 M874.6 921.8V911.9 M875.3 921.8V918.3 M876.1 921.8V905.5 M877.2 921.8V909.9 M878.1 921.8V918.5 M878.9 921.8V915.2 M879.5 921.8V898.9 M880.7 921.8V917.3 M881.9 921.8V913.7 M882.6 921.8V918.5 M883.5 921.8V917.7 M884.1 921.8V912.7 M884.8 921.8V917.4 M885.6 921.8V905.1 M886.4 921.8V908.0 M887.3 921.8V916.8 M888.3 921.8V911.7 M889.3 921.8V914.2 M890.4 921.8V901.7 M891.2 921.8V909.6 M891.8 921.8V912.8 M892.4 921.8V916.8 M893.2 921.8V912.8 M894.5 921.8V899.0 M895.8 921.8V904.3 M896.7 921.8V917.7 M897.2 921.8V906.2 M898.2 921.8V905.1 M898.9 921.8V912.1 M900.0 921.8V909.7 M900.6 921.8V913.7 M901.9 921.8V917.9 M903.0 921.8V912.0 M903.7 921.8V910.1 M904.5 921.8V914.8 M905.6 921.8V906.2 M906.6 921.8V910.2 M907.9 921.8V904.3 M908.8 921.8V917.9 M909.7 921.8V918.4 M910.4 921.8V915.9 M910.9 921.8V918.6 M911.6 921.8V898.1 M912.8 921.8V911.1 M913.5 921.8V913.4 M914.3 921.8V916.7 M915.4 921.8V910.1 M916.0 921.8V917.0 M917.0 921.8V916.7 M917.5 921.8V916.8 M918.8 921.8V906.8 M920.1 921.8V902.5 M921.2 921.8V918.5 M922.2 921.8V917.0 M923.5 921.8V915.5 M924.2 921.8V916.7 M924.7 921.8V917.8 M925.6 921.8V918.4 M926.4 921.8V914.5 M927.3 921.8V914.6 M927.9 921.8V917.8 M928.8 921.8V918.2 M929.5 921.8V918.3 M930.3 921.8V915.4 M930.9 921.8V903.9 M931.9 921.8V918.4 M932.5 921.8V915.9 M933.4 921.8V912.5 M934.0 921.8V895.4 M934.6 921.8V909.9 M935.2 921.8V902.7 M936.3 921.8V918.1 M936.9 921.8V917.4 M937.4 921.8V914.3 M938.1 921.8V912.7 M939.3 921.8V913.9 M940.3 921.8V906.3 M940.9 921.8V912.0 M942.0 921.8V913.1 M942.6 921.8V916.5 M943.9 921.8V900.8 M944.5 921.8V914.8 M945.1 921.8V905.8 M945.8 921.8V917.7 M946.9 921.8V909.2 M947.5 921.8V910.7 M948.5 921.8V917.1 M949.3 921.8V918.0 M950.2 921.8V913.0 M951.5 921.8V918.7 M952.1 921.8V915.3 M953.2 921.8V918.6 M954.4 921.8V913.1 M955.3 921.8V917.9 M956.1 921.8V908.5 M956.6 921.8V916.8 M957.9 921.8V907.5 M958.6 921.8V915.6 M959.4 921.8V905.2 M960.2 921.8V918.7 M961.5 921.8V918.6 M962.5 921.8V917.2 M963.4 921.8V917.3 M964.4 921.8V903.1 M964.9 921.8V914.7 M966.1 921.8V911.4 M967.1 921.8V916.5 M968.2 921.8V908.5 M969.3 921.8V917.0 M970.4 921.8V915.2 M971.2 921.8V914.8 M971.7 921.8V916.7 M973.0 921.8V915.5 M973.7 921.8V917.5 M974.3 921.8V918.8 M975.2 921.8V915.9 M975.9 921.8V909.6 M976.6 921.8V912.3 M977.9 921.8V916.7 M978.9 921.8V918.4 M979.8 921.8V896.9 M980.9 921.8V916.0 M981.5 921.8V915.5 M982.2 921.8V910.5 M982.9 921.8V912.7 M983.8 921.8V917.7 M984.9 921.8V913.6 M986.0 921.8V902.3 M986.6 921.8V910.5 M987.4 921.8V918.1 M988.3 921.8V908.4 M989.5 921.8V917.6 M990.6 921.8V913.6 M991.7 921.8V907.2 M992.2 921.8V913.9 M993.1 921.8V914.2 M994.0 921.8V918.7 M994.9 921.8V885.1 M996.0 921.8V910.1 M996.6 921.8V897.6 M997.5 921.8V914.9 M998.4 921.8V913.4 M999.2 921.8V912.0 M1000.2 921.8V915.3 M1001.0 921.8V915.1 M1001.9 921.8V919.2 M1003.1 921.8V909.6 M1004.1 921.8V915.1 M1005.4 921.8V919.4 M1006.0 921.8V920.2 M1006.5 921.8V917.9 M1007.2 921.8V910.5 M1007.8 921.8V919.6 M1009.0 921.8V906.1 M1009.7 921.8V906.2 M1010.7 921.8V918.8 M1011.6 921.8V918.9 M1012.2 921.8V903.6 M1013.0 921.8V902.1 M1013.9 921.8V911.5 M1014.9 921.8V919.4 M1015.6 921.8V918.3 M1016.2 921.8V915.3 M1017.0 921.8V902.2 M1017.9 921.8V919.7 M1019.1 921.8V919.2 M1020.3 921.8V919.1 M1021.2 921.8V912.5 M1022.2 921.8V917.1 M1023.2 921.8V912.8 M1024.4 921.8V918.7 M1025.6 921.8V919.6 M1026.9 921.8V912.8 M1028.1 921.8V920.3 M1028.8 921.8V915.6 M1029.4 921.8V916.3 M1030.2 921.8V911.5 M1031.4 921.8V899.1 M1032.5 921.8V905.7 M1033.2 921.8V918.3 M1033.7 921.8V903.9 M1034.9 921.8V919.9 M1035.5 921.8V918.3 M1036.6 921.8V919.7 M1037.5 921.8V919.9 M1038.4 921.8V911.5 M1039.0 921.8V908.3 M1040.1 921.8V919.2 M1040.8 921.8V909.5 M1041.7 921.8V917.5 M1042.2 921.8V916.2 M1043.1 921.8V917.5 M1044.4 921.8V913.0 M1045.2 921.8V919.0 M1046.5 921.8V918.6 M1047.3 921.8V919.8 M1047.8 921.8V917.0 M1048.5 921.8V917.0 M1049.2 921.8V919.5 M1050.4 921.8V914.9 M1050.9 921.8V916.2 M1052.0 921.8V917.5 M1053.2 921.8V920.3 M1054.4 921.8V917.8 M1055.7 921.8V919.4 M1056.8 921.8V918.6 M1057.6 921.8V917.7 M1058.7 921.8V918.9 M1059.6 921.8V919.4 M1060.3 921.8V911.9 M1061.4 921.8V917.7 M1062.1 921.8V919.8 M1063.0 921.8V917.7 M1064.1 921.8V919.3 M1065.3 921.8V918.1 M1066.5 921.8V912.4 M1067.0 921.8V918.6 M1068.1 921.8V919.8 M1068.8 921.8V919.9 M1070.0 921.8V917.7 M1070.6 921.8V918.5 M1071.6 921.8V918.2 M1072.8 921.8V915.3 M1073.8 921.8V918.7 M1074.5 921.8V918.7 M1075.3 921.8V920.2 M1076.2 921.8V920.1 M1077.3 921.8V919.2 M1078.0 921.8V914.0 M1079.0 921.8V913.4 M1079.9 921.8V914.8 M1080.7 921.8V920.1 M1081.5 921.8V915.9 M1082.3 921.8V916.6 M1083.1 921.8V918.6 M1084.3 921.8V919.6 M1085.4 921.8V918.7 M1086.1 921.8V920.0 M1086.9 921.8V917.7 M1088.2 921.8V903.8 M1089.0 921.8V918.1 M1089.9 921.8V918.1 M1090.7 921.8V917.9 M1091.9 921.8V916.4 M1092.7 921.8V920.2 M1093.6 921.8V915.2 M1094.2 921.8V905.4 M1094.8 921.8V920.0 M1095.8 921.8V920.1 M1096.8 921.8V905.4 M1097.7 921.8V917.2 M1098.8 921.8V913.1 M1099.6 921.8V901.9 M245.5 921.8V655.9 M193.5 921.8V860.1 M202.5 921.8V871.6 M211.0 921.8V887.0 M222.4 921.8V854.5 M228.0 921.8V888.3 M231.9 921.8V887.0 M253.7 921.8V888.0 M259.5 921.8V841.0 M261.3 921.8V887.0 M289.5 921.8V898.5 M316.9 921.8V870.4 M372.2 921.8V848.6 M403.9 921.8V874.2 M519.8 921.8V879.5 M522.4 921.8V875.6 M594.8 921.8V869.2 M600.4 921.8V838.5 M718.2 921.8V825.7 M741.2 921.8V874.3 M745.0 921.8V862.8 M750.1 921.8V873.0 M816.2 921.8V857.7 M850.0 921.8V888.4 M917.8 921.8V876.9 M931.0 921.8V870.0 M918.0 921.8V876.0" stroke="#a8a8a8" stroke-width="1.4" fill="none"/>
<line x1="298.40" y1="921.80" x2="298.40" y2="883.20" stroke="#c00d1e" stroke-width="3.4" stroke-linecap="butt"/>
<line x1="307.40" y1="921.80" x2="307.40" y2="612.70" stroke="#0a72c2" stroke-width="3.4" stroke-linecap="butt"/>
<line x1="350.20" y1="921.80" x2="350.20" y2="836.60" stroke="#c00d1e" stroke-width="3.4" stroke-linecap="butt"/>
<line x1="374.50" y1="921.80" x2="374.50" y2="701.90" stroke="#0a72c2" stroke-width="3.4" stroke-linecap="butt"/>
<line x1="391.90" y1="921.80" x2="391.90" y2="874.20" stroke="#c00d1e" stroke-width="3.4" stroke-linecap="butt"/>
<line x1="443.80" y1="921.80" x2="443.80" y2="833.40" stroke="#c00d1e" stroke-width="3.4" stroke-linecap="butt"/>
<line x1="461.50" y1="921.80" x2="461.50" y2="850.00" stroke="#0a72c2" stroke-width="3.4" stroke-linecap="butt"/>
<line x1="495.50" y1="921.80" x2="495.50" y2="733.60" stroke="#c00d1e" stroke-width="3.4" stroke-linecap="butt"/>
<line x1="529.30" y1="921.80" x2="529.30" y2="872.30" stroke="#0a72c2" stroke-width="3.4" stroke-linecap="butt"/>
<line x1="554.40" y1="921.80" x2="554.40" y2="810.40" stroke="#c00d1e" stroke-width="3.4" stroke-linecap="butt"/>
<line x1="614.60" y1="921.80" x2="614.60" y2="593.30" stroke="#c00d1e" stroke-width="3.4" stroke-linecap="butt"/>
<line x1="617.00" y1="921.80" x2="617.00" y2="754.50" stroke="#0a72c2" stroke-width="3.4" stroke-linecap="butt"/>
<line x1="673.40" y1="921.80" x2="673.40" y2="740.30" stroke="#c00d1e" stroke-width="3.4" stroke-linecap="butt"/>
<line x1="713.60" y1="921.80" x2="713.60" y2="814.20" stroke="#0a72c2" stroke-width="3.4" stroke-linecap="butt"/>
<line x1="733.50" y1="921.80" x2="733.50" y2="724.10" stroke="#c00d1e" stroke-width="3.4" stroke-linecap="butt"/>
<line x1="793.10" y1="921.80" x2="793.10" y2="801.40" stroke="#c00d1e" stroke-width="3.4" stroke-linecap="butt"/>
<line x1="800.80" y1="921.80" x2="800.80" y2="886.40" stroke="#0a72c2" stroke-width="3.4" stroke-linecap="butt"/>
<line x1="827.40" y1="921.80" x2="827.40" y2="652.90" stroke="#c00d1e" stroke-width="3.4" stroke-linecap="butt"/>
<line x1="869.20" y1="921.80" x2="869.20" y2="850.50" stroke="#0a72c2" stroke-width="3.4" stroke-linecap="butt"/>
<line x1="903.20" y1="921.80" x2="903.20" y2="851.80" stroke="#c00d1e" stroke-width="3.4" stroke-linecap="butt"/>
<line x1="928.00" y1="921.80" x2="928.00" y2="810.40" stroke="#0a72c2" stroke-width="3.4" stroke-linecap="butt"/>
<line x1="937.00" y1="921.80" x2="937.00" y2="690.80" stroke="#c00d1e" stroke-width="3.4" stroke-linecap="butt"/>
<line x1="1047.80" y1="921.80" x2="1047.80" y2="873.20" stroke="#c00d1e" stroke-width="3.4" stroke-linecap="butt"/>
<text x="281.00" y="872.50" font-size="27">y<tspan font-size="16" dy="5.5">2</tspan></text>
<text x="296.40" y="602.40" font-size="27">b<tspan font-size="16" dy="5.5">2</tspan></text>
<text x="340.50" y="826.00" font-size="27">y<tspan font-size="16" dy="5.5">3</tspan></text>
<text x="363.70" y="692.50" font-size="27">b<tspan font-size="16" dy="5.5">3</tspan></text>
<text x="382.00" y="864.00" font-size="27">y<tspan font-size="16" dy="5.5">4</tspan></text>
<text x="431.50" y="822.00" font-size="27">y<tspan font-size="16" dy="5.5">5</tspan></text>
<text x="455.80" y="843.60" font-size="27">b<tspan font-size="16" dy="5.5">4</tspan></text>
<text x="486.00" y="722.00" font-size="27">y<tspan font-size="16" dy="5.5">6</tspan></text>
<text x="518.50" y="862.80" font-size="27">b<tspan font-size="16" dy="5.5">5</tspan></text>
<text x="544.10" y="800.00" font-size="27">y<tspan font-size="16" dy="5.5">7</tspan></text>
<text x="604.30" y="583.00" font-size="27">y<tspan font-size="16" dy="5.5">8</tspan></text>
<text x="623.50" y="761.80" font-size="27">b<tspan font-size="16" dy="5.5">6</tspan></text>
<text x="663.20" y="729.00" font-size="27">y<tspan font-size="16" dy="5.5">9</tspan></text>
<text x="702.30" y="805.20" font-size="27">b<tspan font-size="16" dy="5.5">7</tspan></text>
<text x="719.40" y="713.00" font-size="27">y<tspan font-size="16" dy="5.5">10</tspan></text>
<text x="780.90" y="790.00" font-size="27">y<tspan font-size="16" dy="5.5">11</tspan></text>
<text x="798.80" y="878.50" font-size="27">b<tspan font-size="16" dy="5.5">8</tspan></text>
<text x="814.10" y="641.50" font-size="27">y<tspan font-size="16" dy="5.5">12</tspan></text>
<text x="857.60" y="843.00" font-size="27">b<tspan font-size="16" dy="5.5">9</tspan></text>
<text x="889.60" y="840.00" font-size="27">y<tspan font-size="16" dy="5.5">13</tspan></text>
<text x="902.40" y="799.50" font-size="27">b<tspan font-size="16" dy="5.5">10</tspan></text>
<text x="922.90" y="681.00" font-size="27">y<tspan font-size="16" dy="5.5">14</tspan></text>
<text x="1033.40" y="864.00" font-size="27">y<tspan font-size="16" dy="5.5">15</tspan></text>
<line x1="151.60" y1="589.35" x2="151.60" y2="923.95" stroke="#000" stroke-width="4.3" stroke-linecap="butt"/>
<line x1="137.60" y1="921.80" x2="153.75" y2="921.80" stroke="#000" stroke-width="4.3" stroke-linecap="butt"/>
<text x="130.00" y="935.00" font-size="39.5" text-anchor="end" font-weight="normal" fill="#000" >0</text>
<line x1="137.60" y1="756.65" x2="153.75" y2="756.65" stroke="#000" stroke-width="4.3" stroke-linecap="butt"/>
<text x="130.00" y="769.85" font-size="39.5" text-anchor="end" font-weight="normal" fill="#000" >50</text>
<line x1="137.60" y1="591.50" x2="153.75" y2="591.50" stroke="#000" stroke-width="4.3" stroke-linecap="butt"/>
<text x="130.00" y="604.70" font-size="39.5" text-anchor="end" font-weight="normal" fill="#000" > 00</text>
<line x1="149.45" y1="921.80" x2="1102.55" y2="921.80" stroke="#000" stroke-width="4.3" stroke-linecap="butt"/>
<line x1="151.60" y1="919.65" x2="151.60" y2="935.80" stroke="#000" stroke-width="4.3" stroke-linecap="butt"/>
<text x="151.60" y="975.80" font-size="39.5" text-anchor="middle" font-weight="normal" fill="#000" >0</text>
<line x1="270.20" y1="919.65" x2="270.20" y2="935.80" stroke="#000" stroke-width="4.3" stroke-linecap="butt"/>
<text x="270.20" y="975.80" font-size="39.5" text-anchor="middle" font-weight="normal" fill="#000" >200</text>
<line x1="388.80" y1="919.65" x2="388.80" y2="935.80" stroke="#000" stroke-width="4.3" stroke-linecap="butt"/>
<text x="388.80" y="975.80" font-size="39.5" text-anchor="middle" font-weight="normal" fill="#000" >400</text>
<line x1="507.40" y1="919.65" x2="507.40" y2="935.80" stroke="#000" stroke-width="4.3" stroke-linecap="butt"/>
<text x="507.40" y="975.80" font-size="39.5" text-anchor="middle" font-weight="normal" fill="#000" >600</text>
<line x1="626.00" y1="919.65" x2="626.00" y2="935.80" stroke="#000" stroke-width="4.3" stroke-linecap="butt"/>
<text x="626.00" y="975.80" font-size="39.5" text-anchor="middle" font-weight="normal" fill="#000" >800</text>
<line x1="744.60" y1="919.65" x2="744.60" y2="935.80" stroke="#000" stroke-width="4.3" stroke-linecap="butt"/>
<text x="744.60" y="975.80" font-size="39.5" text-anchor="middle" font-weight="normal" fill="#000" > 000</text>
<line x1="863.20" y1="919.65" x2="863.20" y2="935.80" stroke="#000" stroke-width="4.3" stroke-linecap="butt"/>
<text x="863.20" y="975.80" font-size="39.5" text-anchor="middle" font-weight="normal" fill="#000" > 200</text>
<line x1="981.80" y1="919.65" x2="981.80" y2="935.80" stroke="#000" stroke-width="4.3" stroke-linecap="butt"/>
<text x="981.80" y="975.80" font-size="39.5" text-anchor="middle" font-weight="normal" fill="#000" > 400</text>
<line x1="1100.40" y1="919.65" x2="1100.40" y2="935.80" stroke="#000" stroke-width="4.3" stroke-linecap="butt"/>
<text x="1100.40" y="975.80" font-size="39.5" text-anchor="middle" font-weight="normal" fill="#000" > 600</text>
<text x="626.00" y="1024.80" font-size="48.4" text-anchor="middle" font-weight="bold" fill="#000" >m/z</text>
<text transform="translate(54.60,756.70) rotate(-90)" x="0" y="0" font-size="48.4" text-anchor="middle" font-weight="bold">Intensity (%)</text>
<text x="168.00" y="636.60" font-size="48" text-anchor="start" font-weight="normal" fill="#000" letter-spacing="1">(C)</text>
<line x1="149.10" y1="1025.30" x2="149.10" y2="1365.25" stroke="#000" stroke-width="4.3" stroke-linecap="butt"/>
<line x1="135.10" y1="1363.10" x2="151.25" y2="1363.10" stroke="#000" stroke-width="4.3" stroke-linecap="butt"/>
<text x="129.90" y="1376.70" font-size="39.5" text-anchor="end" font-weight="normal" fill="#000" >0</text>
<line x1="135.10" y1="1267.00" x2="151.25" y2="1267.00" stroke="#000" stroke-width="4.3" stroke-linecap="butt"/>
<text x="129.90" y="1280.60" font-size="39.5" text-anchor="end" font-weight="normal" fill="#000" >20</text>
<line x1="135.10" y1="1170.90" x2="151.25" y2="1170.90" stroke="#000" stroke-width="4.3" stroke-linecap="butt"/>
<text x="129.90" y="1184.50" font-size="39.5" text-anchor="end" font-weight="normal" fill="#000" >40</text>
<line x1="135.10" y1="1074.80" x2="151.25" y2="1074.80" stroke="#000" stroke-width="4.3" stroke-linecap="butt"/>
<text x="129.90" y="1088.40" font-size="39.5" text-anchor="end" font-weight="normal" fill="#000" >60</text>
<line x1="146.95" y1="1363.10" x2="571.81" y2="1363.10" stroke="#000" stroke-width="4.3" stroke-linecap="butt"/>
<line x1="168.10" y1="1360.95" x2="168.10" y2="1377.70" stroke="#000" stroke-width="4.3" stroke-linecap="butt"/>
<text x="168.10" y="1418.20" font-size="39.5" text-anchor="middle" font-weight="normal" fill="#000" >0.00</text>
<line x1="359.25" y1="1360.95" x2="359.25" y2="1377.70" stroke="#000" stroke-width="4.3" stroke-linecap="butt"/>
<text x="359.25" y="1418.20" font-size="39.5" text-anchor="middle" font-weight="normal" fill="#000" >0.05</text>
<line x1="550.40" y1="1360.95" x2="550.40" y2="1377.70" stroke="#000" stroke-width="4.3" stroke-linecap="butt"/>
<text x="550.40" y="1418.20" font-size="39.5" text-anchor="middle" font-weight="normal" fill="#000" >0. 0</text>
<line x1="263.67" y1="1360.95" x2="263.67" y2="1370.10" stroke="#000" stroke-width="4.3" stroke-linecap="butt"/>
<line x1="454.82" y1="1360.95" x2="454.82" y2="1370.10" stroke="#000" stroke-width="4.3" stroke-linecap="butt"/>
<text x="366.45" y="1468.40" font-size="48.4" font-weight="bold" text-anchor="middle">H<tspan font-size="27" dy="16">2</tspan><tspan dy="-16">O</tspan><tspan font-size="27" dy="16">2</tspan><tspan dy="-16"> Added (%)</tspan></text>
<text transform="translate(64.80,1195.70) rotate(-90)" x="0" y="0" font-size="48.4" text-anchor="middle" font-weight="bold">%Oxidized</text>
<text x="168.10" y="1068.00" font-size="48" text-anchor="start" font-weight="normal" fill="#000" letter-spacing="1">(D)</text>
<polygon points="168.10,1337.30 170.25,1342.65 175.99,1343.04 171.57,1346.73 172.98,1352.31 168.10,1349.25 163.22,1352.31 164.63,1346.73 160.21,1343.04 165.95,1342.65" fill="#000"/>
<circle cx="206.33" cy="1350.00" r="8.8" fill="#db195d"/>
<circle cx="206.33" cy="1345.10" r="8.8" fill="#fdbd13"/>
<circle cx="206.33" cy="1339.60" r="8.8" fill="#3f82c9"/>
<circle cx="206.33" cy="1338.90" r="8.8" fill="#0d4f42"/>
<circle cx="282.79" cy="1337.90" r="8.8" fill="#db195d"/>
<circle cx="282.79" cy="1316.10" r="8.8" fill="#fdbd13"/>
<circle cx="282.79" cy="1307.50" r="8.8" fill="#3f82c9"/>
<line x1="282.79" y1="1291.60" x2="282.79" y2="1309.00" stroke="#0d4f42" stroke-width="2.0" stroke-linecap="butt"/>
<line x1="276.19" y1="1291.60" x2="289.39" y2="1291.60" stroke="#0d4f42" stroke-width="2.5" stroke-linecap="butt"/>
<line x1="276.19" y1="1309.00" x2="289.39" y2="1309.00" stroke="#0d4f42" stroke-width="2.5" stroke-linecap="butt"/>
<circle cx="282.79" cy="1300.30" r="8.8" fill="#0d4f42"/>
<line x1="550.40" y1="1237.80" x2="550.40" y2="1257.00" stroke="#db195d" stroke-width="2.0" stroke-linecap="butt"/>
<line x1="543.80" y1="1237.80" x2="557.00" y2="1237.80" stroke="#db195d" stroke-width="2.5" stroke-linecap="butt"/>
<line x1="543.80" y1="1257.00" x2="557.00" y2="1257.00" stroke="#db195d" stroke-width="2.5" stroke-linecap="butt"/>
<circle cx="550.40" cy="1247.10" r="8.8" fill="#db195d"/>
<circle cx="550.40" cy="1194.50" r="8.8" fill="#fdbd13"/>
<line x1="550.40" y1="1164.80" x2="550.40" y2="1182.60" stroke="#3f82c9" stroke-width="2.0" stroke-linecap="butt"/>
<line x1="543.80" y1="1164.80" x2="557.00" y2="1164.80" stroke="#3f82c9" stroke-width="2.5" stroke-linecap="butt"/>
<line x1="543.80" y1="1182.60" x2="557.00" y2="1182.60" stroke="#3f82c9" stroke-width="2.5" stroke-linecap="butt"/>
<circle cx="550.40" cy="1164.80" r="8.8" fill="#3f82c9"/>
<line x1="550.40" y1="1146.70" x2="550.40" y2="1156.60" stroke="#0d4f42" stroke-width="2.0" stroke-linecap="butt"/>
<line x1="543.80" y1="1146.70" x2="557.00" y2="1146.70" stroke="#0d4f42" stroke-width="2.5" stroke-linecap="butt"/>
<line x1="543.80" y1="1156.60" x2="557.00" y2="1156.60" stroke="#0d4f42" stroke-width="2.5" stroke-linecap="butt"/>
<circle cx="550.40" cy="1156.60" r="8.8" fill="#0d4f42"/>
<line x1="712.60" y1="1025.80" x2="712.60" y2="1365.25" stroke="#000" stroke-width="4.3" stroke-linecap="butt"/>
<line x1="698.60" y1="1363.10" x2="714.75" y2="1363.10" stroke="#000" stroke-width="4.3" stroke-linecap="butt"/>
<text x="693.60" y="1376.70" font-size="39.5" text-anchor="end" font-weight="normal" fill="#000" >0</text>
<line x1="698.60" y1="1267.00" x2="714.75" y2="1267.00" stroke="#000" stroke-width="4.3" stroke-linecap="butt"/>
<text x="693.60" y="1280.60" font-size="39.5" text-anchor="end" font-weight="normal" fill="#000" >20</text>
<line x1="698.60" y1="1170.90" x2="714.75" y2="1170.90" stroke="#000" stroke-width="4.3" stroke-linecap="butt"/>
<text x="693.60" y="1184.50" font-size="39.5" text-anchor="end" font-weight="normal" fill="#000" >40</text>
<line x1="698.60" y1="1074.80" x2="714.75" y2="1074.80" stroke="#000" stroke-width="4.3" stroke-linecap="butt"/>
<text x="693.60" y="1088.40" font-size="39.5" text-anchor="end" font-weight="normal" fill="#000" >60</text>
<line x1="710.45" y1="1363.10" x2="1134.88" y2="1363.10" stroke="#000" stroke-width="4.3" stroke-linecap="butt"/>
<line x1="731.70" y1="1360.95" x2="731.70" y2="1377.70" stroke="#000" stroke-width="4.3" stroke-linecap="butt"/>
<text x="731.70" y="1418.20" font-size="39.5" text-anchor="middle" font-weight="normal" fill="#000" >0.00</text>
<line x1="922.60" y1="1360.95" x2="922.60" y2="1377.70" stroke="#000" stroke-width="4.3" stroke-linecap="butt"/>
<text x="922.60" y="1418.20" font-size="39.5" text-anchor="middle" font-weight="normal" fill="#000" >0.05</text>
<line x1="1113.50" y1="1360.95" x2="1113.50" y2="1377.70" stroke="#000" stroke-width="4.3" stroke-linecap="butt"/>
<text x="1113.50" y="1418.20" font-size="39.5" text-anchor="middle" font-weight="normal" fill="#000" >0. 0</text>
<line x1="827.15" y1="1360.95" x2="827.15" y2="1370.10" stroke="#000" stroke-width="4.3" stroke-linecap="butt"/>
<line x1="1018.05" y1="1360.95" x2="1018.05" y2="1370.10" stroke="#000" stroke-width="4.3" stroke-linecap="butt"/>
<text x="929.74" y="1468.40" font-size="48.4" font-weight="bold" text-anchor="middle">H<tspan font-size="27" dy="16">2</tspan><tspan dy="-16">O</tspan><tspan font-size="27" dy="16">2</tspan><tspan dy="-16"> Added (%)</tspan></text>
<text transform="translate(628.50,1195.95) rotate(-90)" x="0" y="0" font-size="48.4" text-anchor="middle" font-weight="bold">%Oxidized</text>
<text x="730.70" y="1068.50" font-size="48" text-anchor="start" font-weight="normal" fill="#000" letter-spacing="1">(E)</text>
<polygon points="731.70,1337.30 733.85,1342.65 739.59,1343.04 735.17,1346.73 736.58,1352.31 731.70,1349.25 726.82,1352.31 728.23,1346.73 723.81,1343.04 729.55,1342.65" fill="#000"/>
<circle cx="769.88" cy="1351.70" r="8.8" fill="#db195d"/>
<circle cx="769.88" cy="1342.20" r="8.8" fill="#fdbd13"/>
<circle cx="769.88" cy="1333.00" r="8.8" fill="#3f82c9"/>
<circle cx="769.88" cy="1325.80" r="8.8" fill="#0d4f42"/>
<circle cx="846.24" cy="1333.00" r="8.8" fill="#db195d"/>
<circle cx="846.24" cy="1294.40" r="8.8" fill="#fdbd13"/>
<line x1="846.24" y1="1256.20" x2="846.24" y2="1278.00" stroke="#3f82c9" stroke-width="2.0" stroke-linecap="butt"/>
<line x1="839.64" y1="1256.20" x2="852.84" y2="1256.20" stroke="#3f82c9" stroke-width="2.5" stroke-linecap="butt"/>
<line x1="839.64" y1="1278.00" x2="852.84" y2="1278.00" stroke="#3f82c9" stroke-width="2.5" stroke-linecap="butt"/>
<circle cx="846.24" cy="1267.10" r="8.8" fill="#3f82c9"/>
<line x1="846.24" y1="1233.00" x2="846.24" y2="1260.30" stroke="#0d4f42" stroke-width="2.0" stroke-linecap="butt"/>
<line x1="839.64" y1="1233.00" x2="852.84" y2="1233.00" stroke="#0d4f42" stroke-width="2.5" stroke-linecap="butt"/>
<line x1="839.64" y1="1260.30" x2="852.84" y2="1260.30" stroke="#0d4f42" stroke-width="2.5" stroke-linecap="butt"/>
<circle cx="846.24" cy="1246.60" r="8.8" fill="#0d4f42"/>
<line x1="1113.50" y1="1209.00" x2="1113.50" y2="1229.00" stroke="#db195d" stroke-width="2.0" stroke-linecap="butt"/>
<line x1="1106.90" y1="1209.00" x2="1120.10" y2="1209.00" stroke="#db195d" stroke-width="2.5" stroke-linecap="butt"/>
<line x1="1106.90" y1="1229.00" x2="1120.10" y2="1229.00" stroke="#db195d" stroke-width="2.5" stroke-linecap="butt"/>
<circle cx="1113.50" cy="1219.00" r="8.8" fill="#db195d"/>
<line x1="1113.50" y1="1090.50" x2="1113.50" y2="1107.50" stroke="#fdbd13" stroke-width="2.0" stroke-linecap="butt"/>
<line x1="1106.90" y1="1090.50" x2="1120.10" y2="1090.50" stroke="#fdbd13" stroke-width="2.5" stroke-linecap="butt"/>
<line x1="1106.90" y1="1107.50" x2="1120.10" y2="1107.50" stroke="#fdbd13" stroke-width="2.5" stroke-linecap="butt"/>
<circle cx="1113.50" cy="1099.00" r="8.8" fill="#fdbd13"/>
<line x1="1113.50" y1="1061.00" x2="1113.50" y2="1087.20" stroke="#3f82c9" stroke-width="2.0" stroke-linecap="butt"/>
<line x1="1106.90" y1="1061.00" x2="1120.10" y2="1061.00" stroke="#3f82c9" stroke-width="2.5" stroke-linecap="butt"/>
<line x1="1106.90" y1="1087.20" x2="1120.10" y2="1087.20" stroke="#3f82c9" stroke-width="2.5" stroke-linecap="butt"/>
<circle cx="1113.50" cy="1074.00" r="8.8" fill="#3f82c9"/>
<circle cx="1113.50" cy="1048.80" r="8.8" fill="#0d4f42"/>
<line x1="149.10" y1="1502.90" x2="149.10" y2="1843.85" stroke="#000" stroke-width="4.3" stroke-linecap="butt"/>
<line x1="135.10" y1="1841.70" x2="151.25" y2="1841.70" stroke="#000" stroke-width="4.3" stroke-linecap="butt"/>
<text x="127.20" y="1855.30" font-size="39.5" text-anchor="end" font-weight="normal" fill="#000" >0</text>
<line x1="135.10" y1="1729.46" x2="151.25" y2="1729.46" stroke="#000" stroke-width="4.3" stroke-linecap="butt"/>
<text x="127.20" y="1743.06" font-size="39.5" text-anchor="end" font-weight="normal" fill="#000" >20</text>
<line x1="135.10" y1="1617.22" x2="151.25" y2="1617.22" stroke="#000" stroke-width="4.3" stroke-linecap="butt"/>
<text x="127.20" y="1630.82" font-size="39.5" text-anchor="end" font-weight="normal" fill="#000" >40</text>
<line x1="135.10" y1="1504.98" x2="151.25" y2="1504.98" stroke="#000" stroke-width="4.3" stroke-linecap="butt"/>
<text x="127.20" y="1518.58" font-size="39.5" text-anchor="end" font-weight="normal" fill="#000" >60</text>
<line x1="146.95" y1="1841.70" x2="571.81" y2="1841.70" stroke="#000" stroke-width="4.3" stroke-linecap="butt"/>
<line x1="168.10" y1="1839.55" x2="168.10" y2="1856.30" stroke="#000" stroke-width="4.3" stroke-linecap="butt"/>
<text x="168.10" y="1896.80" font-size="39.5" text-anchor="middle" font-weight="normal" fill="#000" >0.00</text>
<line x1="359.25" y1="1839.55" x2="359.25" y2="1856.30" stroke="#000" stroke-width="4.3" stroke-linecap="butt"/>
<text x="359.25" y="1896.80" font-size="39.5" text-anchor="middle" font-weight="normal" fill="#000" >0.05</text>
<line x1="550.40" y1="1839.55" x2="550.40" y2="1856.30" stroke="#000" stroke-width="4.3" stroke-linecap="butt"/>
<text x="550.40" y="1896.80" font-size="39.5" text-anchor="middle" font-weight="normal" fill="#000" >0. 0</text>
<line x1="263.67" y1="1839.55" x2="263.67" y2="1848.70" stroke="#000" stroke-width="4.3" stroke-linecap="butt"/>
<line x1="454.82" y1="1839.55" x2="454.82" y2="1848.70" stroke="#000" stroke-width="4.3" stroke-linecap="butt"/>
<text x="366.45" y="1947.00" font-size="48.4" font-weight="bold" text-anchor="middle">H<tspan font-size="27" dy="16">2</tspan><tspan dy="-16">O</tspan><tspan font-size="27" dy="16">2</tspan><tspan dy="-16"> Added (%)</tspan></text>
<text transform="translate(64.80,1673.80) rotate(-90)" x="0" y="0" font-size="48.4" text-anchor="middle" font-weight="bold">%Oxidized</text>
<text x="168.10" y="1545.60" font-size="48" text-anchor="start" font-weight="normal" fill="#000" letter-spacing="1">(F)</text>
<polygon points="168.10,1824.40 170.25,1829.75 175.99,1830.14 171.57,1833.83 172.98,1839.41 168.10,1836.35 163.22,1839.41 164.63,1833.83 160.21,1830.14 165.95,1829.75" fill="#000"/>
<circle cx="206.33" cy="1825.50" r="8.8" fill="#fdbd13"/>
<circle cx="206.33" cy="1822.50" r="8.8" fill="#3f82c9"/>
<circle cx="206.33" cy="1822.30" r="8.8" fill="#0d4f42"/>
<circle cx="206.33" cy="1824.00" r="8.8" fill="#db195d"/>
<circle cx="282.79" cy="1820.70" r="8.8" fill="#db195d"/>
<circle cx="282.79" cy="1809.40" r="8.8" fill="#fdbd13"/>
<circle cx="282.79" cy="1801.60" r="8.8" fill="#3f82c9"/>
<circle cx="282.79" cy="1801.40" r="8.8" fill="#0d4f42"/>
<line x1="550.40" y1="1755.60" x2="550.40" y2="1778.40" stroke="#db195d" stroke-width="2.0" stroke-linecap="butt"/>
<line x1="543.80" y1="1755.60" x2="557.00" y2="1755.60" stroke="#db195d" stroke-width="2.5" stroke-linecap="butt"/>
<line x1="543.80" y1="1778.40" x2="557.00" y2="1778.40" stroke="#db195d" stroke-width="2.5" stroke-linecap="butt"/>
<circle cx="550.40" cy="1767.20" r="8.8" fill="#db195d"/>
<line x1="550.40" y1="1709.80" x2="550.40" y2="1717.00" stroke="#fdbd13" stroke-width="2.0" stroke-linecap="butt"/>
<line x1="543.80" y1="1709.80" x2="557.00" y2="1709.80" stroke="#fdbd13" stroke-width="2.5" stroke-linecap="butt"/>
<line x1="543.80" y1="1717.00" x2="557.00" y2="1717.00" stroke="#fdbd13" stroke-width="2.5" stroke-linecap="butt"/>
<circle cx="550.40" cy="1709.80" r="8.8" fill="#fdbd13"/>
<circle cx="550.40" cy="1692.00" r="8.8" fill="#3f82c9"/>
<line x1="550.40" y1="1679.80" x2="550.40" y2="1702.70" stroke="#0d4f42" stroke-width="2.0" stroke-linecap="butt"/>
<line x1="543.80" y1="1679.80" x2="557.00" y2="1679.80" stroke="#0d4f42" stroke-width="2.5" stroke-linecap="butt"/>
<line x1="543.80" y1="1702.70" x2="557.00" y2="1702.70" stroke="#0d4f42" stroke-width="2.5" stroke-linecap="butt"/>
<circle cx="550.40" cy="1691.10" r="8.8" fill="#0d4f42"/>
<line x1="712.20" y1="1502.90" x2="712.20" y2="1843.85" stroke="#000" stroke-width="4.3" stroke-linecap="butt"/>
<line x1="698.20" y1="1841.70" x2="714.35" y2="1841.70" stroke="#000" stroke-width="4.3" stroke-linecap="butt"/>
<text x="691.30" y="1855.30" font-size="39.5" text-anchor="end" font-weight="normal" fill="#000" >0</text>
<line x1="698.20" y1="1729.46" x2="714.35" y2="1729.46" stroke="#000" stroke-width="4.3" stroke-linecap="butt"/>
<text x="691.30" y="1743.06" font-size="39.5" text-anchor="end" font-weight="normal" fill="#000" >20</text>
<line x1="698.20" y1="1617.22" x2="714.35" y2="1617.22" stroke="#000" stroke-width="4.3" stroke-linecap="butt"/>
<text x="691.30" y="1630.82" font-size="39.5" text-anchor="end" font-weight="normal" fill="#000" >40</text>
<line x1="698.20" y1="1504.98" x2="714.35" y2="1504.98" stroke="#000" stroke-width="4.3" stroke-linecap="butt"/>
<text x="691.30" y="1518.58" font-size="39.5" text-anchor="end" font-weight="normal" fill="#000" >60</text>
<line x1="710.05" y1="1841.70" x2="1134.88" y2="1841.70" stroke="#000" stroke-width="4.3" stroke-linecap="butt"/>
<line x1="731.70" y1="1839.55" x2="731.70" y2="1856.30" stroke="#000" stroke-width="4.3" stroke-linecap="butt"/>
<text x="731.70" y="1896.80" font-size="39.5" text-anchor="middle" font-weight="normal" fill="#000" >0.00</text>
<line x1="922.60" y1="1839.55" x2="922.60" y2="1856.30" stroke="#000" stroke-width="4.3" stroke-linecap="butt"/>
<text x="922.60" y="1896.80" font-size="39.5" text-anchor="middle" font-weight="normal" fill="#000" >0.05</text>
<line x1="1113.50" y1="1839.55" x2="1113.50" y2="1856.30" stroke="#000" stroke-width="4.3" stroke-linecap="butt"/>
<text x="1113.50" y="1896.80" font-size="39.5" text-anchor="middle" font-weight="normal" fill="#000" >0. 0</text>
<line x1="827.15" y1="1839.55" x2="827.15" y2="1848.70" stroke="#000" stroke-width="4.3" stroke-linecap="butt"/>
<line x1="1018.05" y1="1839.55" x2="1018.05" y2="1848.70" stroke="#000" stroke-width="4.3" stroke-linecap="butt"/>
<text x="929.54" y="1947.00" font-size="48.4" font-weight="bold" text-anchor="middle">H<tspan font-size="27" dy="16">2</tspan><tspan dy="-16">O</tspan><tspan font-size="27" dy="16">2</tspan><tspan dy="-16"> Added (%)</tspan></text>
<text transform="translate(628.50,1673.80) rotate(-90)" x="0" y="0" font-size="48.4" text-anchor="middle" font-weight="bold">%Oxidized</text>
<text x="731.10" y="1545.60" font-size="48" text-anchor="start" font-weight="normal" fill="#000" letter-spacing="1">(G)</text>
<polygon points="731.70,1820.90 733.85,1826.25 739.59,1826.64 735.17,1830.33 736.58,1835.91 731.70,1832.85 726.82,1835.91 728.23,1830.33 723.81,1826.64 729.55,1826.25" fill="#000"/>
<line x1="769.88" y1="1804.30" x2="769.88" y2="1832.70" stroke="#db195d" stroke-width="2.0" stroke-linecap="butt"/>
<line x1="763.28" y1="1804.30" x2="776.48" y2="1804.30" stroke="#db195d" stroke-width="2.5" stroke-linecap="butt"/>
<line x1="763.28" y1="1832.70" x2="776.48" y2="1832.70" stroke="#db195d" stroke-width="2.5" stroke-linecap="butt"/>
<circle cx="769.88" cy="1818.50" r="8.8" fill="#db195d"/>
<line x1="769.88" y1="1785.90" x2="769.88" y2="1826.10" stroke="#fdbd13" stroke-width="2.0" stroke-linecap="butt"/>
<line x1="763.28" y1="1785.90" x2="776.48" y2="1785.90" stroke="#fdbd13" stroke-width="2.5" stroke-linecap="butt"/>
<line x1="763.28" y1="1826.10" x2="776.48" y2="1826.10" stroke="#fdbd13" stroke-width="2.5" stroke-linecap="butt"/>
<circle cx="769.88" cy="1806.00" r="8.8" fill="#fdbd13"/>
<line x1="769.88" y1="1800.30" x2="769.88" y2="1822.40" stroke="#3f82c9" stroke-width="2.0" stroke-linecap="butt"/>
<line x1="763.28" y1="1800.30" x2="776.48" y2="1800.30" stroke="#3f82c9" stroke-width="2.5" stroke-linecap="butt"/>
<line x1="763.28" y1="1822.40" x2="776.48" y2="1822.40" stroke="#3f82c9" stroke-width="2.5" stroke-linecap="butt"/>
<circle cx="769.88" cy="1811.30" r="8.8" fill="#3f82c9"/>
<circle cx="769.88" cy="1811.90" r="8.8" fill="#0d4f42"/>
<circle cx="846.24" cy="1814.40" r="8.8" fill="#db195d"/>
<circle cx="846.24" cy="1793.20" r="8.8" fill="#fdbd13"/>
<circle cx="846.24" cy="1769.50" r="8.8" fill="#3f82c9"/>
<circle cx="846.24" cy="1766.60" r="8.8" fill="#0d4f42"/>
<circle cx="1113.50" cy="1730.00" r="8.8" fill="#db195d"/>
<circle cx="1113.50" cy="1622.90" r="8.8" fill="#fdbd13"/>
<line x1="1113.50" y1="1588.60" x2="1113.50" y2="1597.00" stroke="#3f82c9" stroke-width="2.0" stroke-linecap="butt"/>
<line x1="1106.90" y1="1588.60" x2="1120.10" y2="1588.60" stroke="#3f82c9" stroke-width="2.5" stroke-linecap="butt"/>
<line x1="1106.90" y1="1597.00" x2="1120.10" y2="1597.00" stroke="#3f82c9" stroke-width="2.5" stroke-linecap="butt"/>
<circle cx="1113.50" cy="1588.60" r="8.8" fill="#3f82c9"/>
<line x1="1113.50" y1="1556.80" x2="1113.50" y2="1570.90" stroke="#0d4f42" stroke-width="2.0" stroke-linecap="butt"/>
<line x1="1106.90" y1="1556.80" x2="1120.10" y2="1556.80" stroke="#0d4f42" stroke-width="2.5" stroke-linecap="butt"/>
<line x1="1106.90" y1="1570.90" x2="1120.10" y2="1570.90" stroke="#0d4f42" stroke-width="2.5" stroke-linecap="butt"/>
<circle cx="1113.50" cy="1570.90" r="8.8" fill="#0d4f42"/>
<rect x="136.9" y="1984.7" width="885.9" height="97.6" fill="none" stroke="#000" stroke-width="3.6"/>
<text x="146.0" y="2023.5" font-size="38.8" style="white-space:pre">Methionine Added:  <tspan fill="#0d4f42">0 mM</tspan>, <tspan fill="#3f82c9">0.5 mM</tspan>, <tspan fill="#fdbd13"> .5 mM</tspan>, <tspan fill="#db195d">3 mM</tspan></text>
<polygon points="366.20,2037.10 370.13,2046.89 380.66,2047.60 372.56,2054.37 375.13,2064.60 366.20,2058.99 357.27,2064.60 359.84,2054.37 351.74,2047.60 362.27,2046.89" fill="#000"/>
<text x="387.4" y="2064.0" font-size="38.5">= No Methionine or H<tspan font-size="24" dy="12.7">2</tspan><tspan dy="-12.7">O</tspan><tspan font-size="24" dy="12.7">2</tspan></text>
<path d="M515 0L515 1237L197 1010L197 1180L530 1409L696 1409L696 0Z" transform="translate(58.59,42.10) scale(0.019287,-0.019287)" fill="rgb(0, 0, 0)"/>
<path d="M515 0L515 1237L197 1010L197 1180L530 1409L696 1409L696 0Z" transform="translate(615.09,42.10) scale(0.019287,-0.019287)" fill="rgb(0, 0, 0)"/>
<path d="M515 0L515 1237L197 1010L197 1180L530 1409L696 1409L696 0Z" transform="translate(728.05,427.50) scale(0.019287,-0.019287)" fill="rgb(0, 0, 0)"/>
<path d="M515 0L515 1237L197 1010L197 1180L530 1409L696 1409L696 0Z" transform="translate(823.11,427.50) scale(0.019287,-0.019287)" fill="rgb(0, 0, 0)"/>
<path d="M515 0L515 1237L197 1010L197 1180L530 1409L696 1409L696 0Z" transform="translate(918.15,427.50) scale(0.019287,-0.019287)" fill="rgb(0, 0, 0)"/>
<path d="M515 0L515 1237L197 1010L197 1180L530 1409L696 1409L696 0Z" transform="translate(1013.20,427.50) scale(0.019287,-0.019287)" fill="rgb(0, 0, 0)"/>
<path d="M515 0L515 1237L197 1010L197 1180L530 1409L696 1409L696 0Z" transform="translate(1108.25,427.50) scale(0.019287,-0.019287)" fill="rgb(0, 0, 0)"/>
<path d="M515 0L515 1237L197 1010L197 1180L530 1409L696 1409L696 0Z" transform="translate(275.60,142.10) scale(0.014648,-0.014648)" fill="rgb(236, 28, 36)"/>
<path d="M515 0L515 1237L197 1010L197 1180L530 1409L696 1409L696 0Z" transform="translate(202.34,171.20) scale(0.015137,-0.015137)" fill="rgb(236, 28, 36)"/>
<path d="M515 0L515 1237L197 1010L197 1180L530 1409L696 1409L696 0Z" transform="translate(449.09,181.30) scale(0.015137,-0.015137)" fill="rgb(0, 0, 0)"/>
<path d="M515 0L515 1237L197 1010L197 1180L530 1409L696 1409L696 0Z" transform="translate(64.09,604.70) scale(0.019287,-0.019287)" fill="rgb(0, 0, 0)"/>
<path d="M515 0L515 1237L197 1010L197 1180L530 1409L696 1409L696 0Z" transform="translate(700.66,975.80) scale(0.019287,-0.019287)" fill="rgb(0, 0, 0)"/>
<path d="M515 0L515 1237L197 1010L197 1180L530 1409L696 1409L696 0Z" transform="translate(819.26,975.80) scale(0.019287,-0.019287)" fill="rgb(0, 0, 0)"/>
<path d="M515 0L515 1237L197 1010L197 1180L530 1409L696 1409L696 0Z" transform="translate(937.86,975.80) scale(0.019287,-0.019287)" fill="rgb(0, 0, 0)"/>
<path d="M515 0L515 1237L197 1010L197 1180L530 1409L696 1409L696 0Z" transform="translate(1056.46,975.80) scale(0.019287,-0.019287)" fill="rgb(0, 0, 0)"/>
<path d="M515 0L515 1237L197 1010L197 1180L530 1409L696 1409L696 0Z" transform="translate(544.89,1418.20) scale(0.019287,-0.019287)" fill="rgb(0, 0, 0)"/>
<path d="M515 0L515 1237L197 1010L197 1180L530 1409L696 1409L696 0Z" transform="translate(1107.99,1418.20) scale(0.019287,-0.019287)" fill="rgb(0, 0, 0)"/>
<path d="M515 0L515 1237L197 1010L197 1180L530 1409L696 1409L696 0Z" transform="translate(544.89,1896.80) scale(0.019287,-0.019287)" fill="rgb(0, 0, 0)"/>
<path d="M515 0L515 1237L197 1010L197 1180L530 1409L696 1409L696 0Z" transform="translate(1107.99,1896.80) scale(0.019287,-0.019287)" fill="rgb(0, 0, 0)"/>
<path d="M515 0L515 1237L197 1010L197 1180L530 1409L696 1409L696 0Z" transform="translate(758.45,2023.50) scale(0.018945,-0.018945)" fill="rgb(253, 189, 19)"/>
</g>
</svg></body></html>
